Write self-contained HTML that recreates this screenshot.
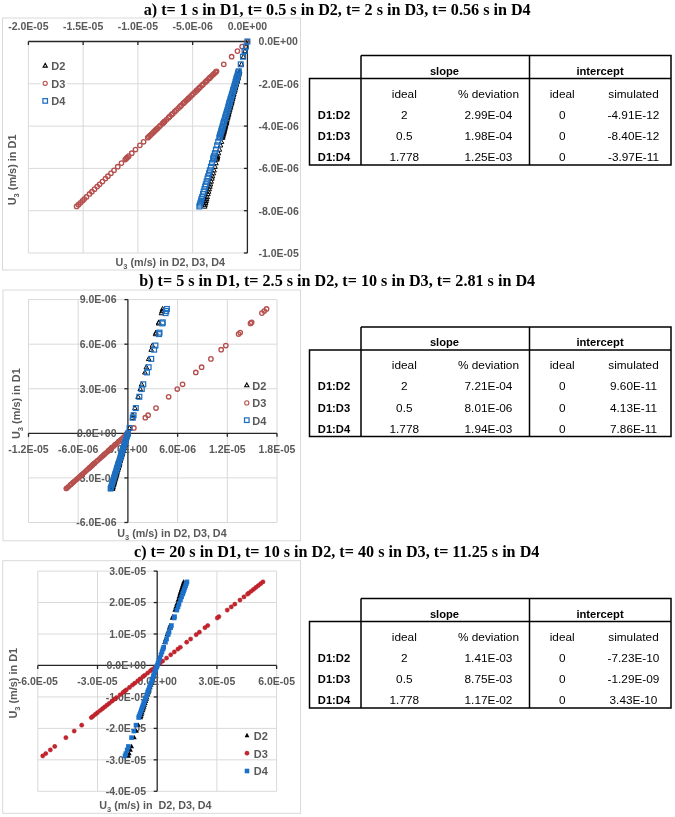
<!DOCTYPE html>
<html><head><meta charset="utf-8"><style>
html,body{margin:0;padding:0;background:#fff;}
svg{display:block;will-change:transform}
.ti{font-family:"Liberation Serif", serif;font-weight:bold;font-size:16.15px;fill:#000}
.tl{font-family:"Liberation Sans", sans-serif;font-size:10.5px;fill:#595959;font-weight:bold}
.lg{font-family:"Liberation Sans", sans-serif;font-size:11px;fill:#595959;font-weight:bold}
.at{font-family:"Liberation Sans", sans-serif;font-size:10.75px;fill:#595959;font-weight:bold}
.tb{font-family:"Liberation Sans", sans-serif;font-size:11.2px;fill:#000;font-weight:bold}
.tr{font-family:"Liberation Sans", sans-serif;font-size:11.8px;fill:#000}
</style></head>
<body><svg width="675" height="817" viewBox="0 0 675 817">
<text x="337.2" y="14.5" text-anchor="middle" class="ti">a) t= 1 s in D1, t= 0.5 s in D2, t= 2 s in D3, t= 0.56 s in D4</text>
<rect x="2.5" y="18" width="298" height="252" fill="#fff" stroke="#d9d9d9" stroke-width="1"/>
<line x1="28.40" y1="41.5" x2="28.40" y2="253" stroke="#d9d9d9" stroke-width="1"/>
<line x1="83.15" y1="41.5" x2="83.15" y2="253" stroke="#d9d9d9" stroke-width="1"/>
<line x1="137.90" y1="41.5" x2="137.90" y2="253" stroke="#d9d9d9" stroke-width="1"/>
<line x1="192.65" y1="41.5" x2="192.65" y2="253" stroke="#d9d9d9" stroke-width="1"/>
<line x1="28.4" y1="253.00" x2="247.4" y2="253.00" stroke="#d9d9d9" stroke-width="1"/>
<line x1="28.4" y1="210.70" x2="247.4" y2="210.70" stroke="#d9d9d9" stroke-width="1"/>
<line x1="28.4" y1="168.40" x2="247.4" y2="168.40" stroke="#d9d9d9" stroke-width="1"/>
<line x1="28.4" y1="126.10" x2="247.4" y2="126.10" stroke="#d9d9d9" stroke-width="1"/>
<line x1="28.4" y1="83.80" x2="247.4" y2="83.80" stroke="#d9d9d9" stroke-width="1"/>
<rect x="40.5" y="57" width="26" height="52" fill="#fff"/>
<polygon points="45.20,63.31 47.32,67.12 43.08,67.12" fill="none" stroke="#000" stroke-width="1.05"/>
<text x="51.2" y="70.00" class="lg">D2</text>
<circle cx="45.20" cy="83.30" r="2.09" fill="none" stroke="#b5504e" stroke-width="1.1"/>
<text x="51.2" y="87.70" class="lg">D3</text>
<rect x="42.92" y="98.62" width="4.56" height="4.56" fill="none" stroke="#1f6fc0" stroke-width="1.25"/>
<text x="51.2" y="105.30" class="lg">D4</text>
<line x1="28.4" y1="41.50" x2="247.4" y2="41.50" stroke="#262626" stroke-width="1.3"/>
<line x1="247.40" y1="41.5" x2="247.40" y2="253" stroke="#262626" stroke-width="1.3"/>
<line x1="28.40" y1="41.50" x2="28.40" y2="45.00" stroke="#262626" stroke-width="1.3"/>
<line x1="83.15" y1="41.50" x2="83.15" y2="45.00" stroke="#262626" stroke-width="1.3"/>
<line x1="137.90" y1="41.50" x2="137.90" y2="45.00" stroke="#262626" stroke-width="1.3"/>
<line x1="192.65" y1="41.50" x2="192.65" y2="45.00" stroke="#262626" stroke-width="1.3"/>
<line x1="247.40" y1="41.50" x2="247.40" y2="45.00" stroke="#262626" stroke-width="1.3"/>
<line x1="247.40" y1="253.00" x2="243.90" y2="253.00" stroke="#262626" stroke-width="1.3"/>
<line x1="247.40" y1="210.70" x2="243.90" y2="210.70" stroke="#262626" stroke-width="1.3"/>
<line x1="247.40" y1="168.40" x2="243.90" y2="168.40" stroke="#262626" stroke-width="1.3"/>
<line x1="247.40" y1="126.10" x2="243.90" y2="126.10" stroke="#262626" stroke-width="1.3"/>
<line x1="247.40" y1="83.80" x2="243.90" y2="83.80" stroke="#262626" stroke-width="1.3"/>
<line x1="247.40" y1="41.50" x2="243.90" y2="41.50" stroke="#262626" stroke-width="1.3"/>
<text x="28.40" y="29.8" text-anchor="middle" class="tl">-2.0E-05</text>
<text x="83.15" y="29.8" text-anchor="middle" class="tl">-1.5E-05</text>
<text x="137.90" y="29.8" text-anchor="middle" class="tl">-1.0E-05</text>
<text x="192.65" y="29.8" text-anchor="middle" class="tl">-5.0E-06</text>
<text x="247.40" y="29.8" text-anchor="middle" class="tl">0.0E+00</text>
<text x="258.5" y="256.80" text-anchor="start" class="tl">-1.0E-05</text>
<text x="258.5" y="214.50" text-anchor="start" class="tl">-8.0E-06</text>
<text x="258.5" y="172.20" text-anchor="start" class="tl">-6.0E-06</text>
<text x="258.5" y="129.90" text-anchor="start" class="tl">-4.0E-06</text>
<text x="258.5" y="87.60" text-anchor="start" class="tl">-2.0E-06</text>
<text x="258.5" y="45.30" text-anchor="start" class="tl">0.0E+00</text>
<polygon points="247.40,39.02 249.70,43.16 245.10,43.16" fill="none" stroke="#000" stroke-width="1.0"/>
<polygon points="246.09,44.09 248.39,48.23 243.79,48.23" fill="none" stroke="#000" stroke-width="1.0"/>
<polygon points="244.91,48.64 247.21,52.78 242.61,52.78" fill="none" stroke="#000" stroke-width="1.0"/>
<polygon points="243.46,54.24 245.76,58.38 241.16,58.38" fill="none" stroke="#000" stroke-width="1.0"/>
<polygon points="241.49,61.86 243.79,66.00 239.19,66.00" fill="none" stroke="#000" stroke-width="1.0"/>
<polygon points="239.68,68.84 241.98,72.98 237.38,72.98" fill="none" stroke="#000" stroke-width="1.0"/>
<polygon points="239.46,69.71 241.76,73.85 237.16,73.85" fill="none" stroke="#000" stroke-width="1.0"/>
<polygon points="239.11,71.04 241.41,75.18 236.81,75.18" fill="none" stroke="#000" stroke-width="1.0"/>
<polygon points="238.83,72.11 241.13,76.25 236.53,76.25" fill="none" stroke="#000" stroke-width="1.0"/>
<polygon points="238.46,73.54 240.76,77.68 236.16,77.68" fill="none" stroke="#000" stroke-width="1.0"/>
<polygon points="238.08,75.00 240.38,79.14 235.78,79.14" fill="none" stroke="#000" stroke-width="1.0"/>
<polygon points="237.93,75.61 240.23,79.75 235.63,79.75" fill="none" stroke="#000" stroke-width="1.0"/>
<polygon points="237.79,76.14 240.09,80.28 235.49,80.28" fill="none" stroke="#000" stroke-width="1.0"/>
<polygon points="237.33,77.92 239.63,82.06 235.03,82.06" fill="none" stroke="#000" stroke-width="1.0"/>
<polygon points="237.10,78.82 239.40,82.96 234.80,82.96" fill="none" stroke="#000" stroke-width="1.0"/>
<polygon points="236.87,79.69 239.17,83.83 234.57,83.83" fill="none" stroke="#000" stroke-width="1.0"/>
<polygon points="236.35,81.71 238.65,85.85 234.05,85.85" fill="none" stroke="#000" stroke-width="1.0"/>
<polygon points="236.03,82.93 238.33,87.07 233.73,87.07" fill="none" stroke="#000" stroke-width="1.0"/>
<polygon points="235.57,84.72 237.87,88.86 233.27,88.86" fill="none" stroke="#000" stroke-width="1.0"/>
<polygon points="235.25,85.95 237.55,90.09 232.95,90.09" fill="none" stroke="#000" stroke-width="1.0"/>
<polygon points="234.87,87.43 237.17,91.57 232.57,91.57" fill="none" stroke="#000" stroke-width="1.0"/>
<polygon points="234.68,88.17 236.98,92.31 232.38,92.31" fill="none" stroke="#000" stroke-width="1.0"/>
<polygon points="234.29,89.64 236.59,93.78 231.99,93.78" fill="none" stroke="#000" stroke-width="1.0"/>
<polygon points="233.82,91.47 236.12,95.61 231.52,95.61" fill="none" stroke="#000" stroke-width="1.0"/>
<polygon points="233.48,92.78 235.78,96.92 231.18,96.92" fill="none" stroke="#000" stroke-width="1.0"/>
<polygon points="233.06,94.41 235.36,98.55 230.76,98.55" fill="none" stroke="#000" stroke-width="1.0"/>
<polygon points="232.66,95.94 234.96,100.08 230.36,100.08" fill="none" stroke="#000" stroke-width="1.0"/>
<polygon points="232.51,96.55 234.81,100.69 230.21,100.69" fill="none" stroke="#000" stroke-width="1.0"/>
<polygon points="232.08,98.21 234.38,102.35 229.78,102.35" fill="none" stroke="#000" stroke-width="1.0"/>
<polygon points="231.71,99.62 234.01,103.76 229.41,103.76" fill="none" stroke="#000" stroke-width="1.0"/>
<polygon points="231.46,100.58 233.76,104.72 229.16,104.72" fill="none" stroke="#000" stroke-width="1.0"/>
<polygon points="231.32,101.14 233.62,105.28 229.02,105.28" fill="none" stroke="#000" stroke-width="1.0"/>
<polygon points="230.85,102.96 233.15,107.10 228.55,107.10" fill="none" stroke="#000" stroke-width="1.0"/>
<polygon points="230.53,104.19 232.83,108.33 228.23,108.33" fill="none" stroke="#000" stroke-width="1.0"/>
<polygon points="230.11,105.79 232.41,109.93 227.81,109.93" fill="none" stroke="#000" stroke-width="1.0"/>
<polygon points="229.64,107.64 231.94,111.78 227.34,111.78" fill="none" stroke="#000" stroke-width="1.0"/>
<polygon points="229.22,109.23 231.52,113.37 226.92,113.37" fill="none" stroke="#000" stroke-width="1.0"/>
<polygon points="228.73,111.14 231.03,115.28 226.43,115.28" fill="none" stroke="#000" stroke-width="1.0"/>
<polygon points="228.44,112.25 230.74,116.39 226.14,116.39" fill="none" stroke="#000" stroke-width="1.0"/>
<polygon points="227.99,113.98 230.29,118.12 225.69,118.12" fill="none" stroke="#000" stroke-width="1.0"/>
<polygon points="227.69,115.17 229.99,119.31 225.39,119.31" fill="none" stroke="#000" stroke-width="1.0"/>
<polygon points="227.19,117.10 229.49,121.24 224.89,121.24" fill="none" stroke="#000" stroke-width="1.0"/>
<polygon points="226.71,118.94 229.01,123.08 224.41,123.08" fill="none" stroke="#000" stroke-width="1.0"/>
<polygon points="226.54,119.60 228.84,123.74 224.24,123.74" fill="none" stroke="#000" stroke-width="1.0"/>
<polygon points="226.35,120.31 228.65,124.45 224.05,124.45" fill="none" stroke="#000" stroke-width="1.0"/>
<polygon points="226.14,121.15 228.44,125.29 223.84,125.29" fill="none" stroke="#000" stroke-width="1.0"/>
<polygon points="225.63,123.13 227.93,127.27 223.33,127.27" fill="none" stroke="#000" stroke-width="1.0"/>
<polygon points="225.32,124.30 227.62,128.44 223.02,128.44" fill="none" stroke="#000" stroke-width="1.0"/>
<polygon points="224.94,125.76 227.24,129.90 222.64,129.90" fill="none" stroke="#000" stroke-width="1.0"/>
<polygon points="224.69,126.73 226.99,130.87 222.39,130.87" fill="none" stroke="#000" stroke-width="1.0"/>
<polygon points="224.36,128.01 226.66,132.15 222.06,132.15" fill="none" stroke="#000" stroke-width="1.0"/>
<polygon points="224.08,129.10 226.38,133.24 221.78,133.24" fill="none" stroke="#000" stroke-width="1.0"/>
<polygon points="223.81,130.15 226.11,134.29 221.51,134.29" fill="none" stroke="#000" stroke-width="1.0"/>
<polygon points="223.45,131.55 225.75,135.69 221.15,135.69" fill="none" stroke="#000" stroke-width="1.0"/>
<polygon points="223.09,132.94 225.39,137.08 220.79,137.08" fill="none" stroke="#000" stroke-width="1.0"/>
<polygon points="222.76,134.19 225.06,138.33 220.46,138.33" fill="none" stroke="#000" stroke-width="1.0"/>
<polygon points="222.49,135.25 224.79,139.39 220.19,139.39" fill="none" stroke="#000" stroke-width="1.0"/>
<polygon points="221.45,139.27 223.75,143.41 219.15,143.41" fill="none" stroke="#000" stroke-width="1.0"/>
<polygon points="220.52,142.86 222.82,147.00 218.22,147.00" fill="none" stroke="#000" stroke-width="1.0"/>
<polygon points="219.42,147.09 221.72,151.23 217.12,151.23" fill="none" stroke="#000" stroke-width="1.0"/>
<polygon points="218.49,150.69 220.79,154.83 216.19,154.83" fill="none" stroke="#000" stroke-width="1.0"/>
<polygon points="217.73,153.65 220.03,157.79 215.43,157.79" fill="none" stroke="#000" stroke-width="1.0"/>
<polygon points="217.40,154.92 219.70,159.06 215.10,159.06" fill="none" stroke="#000" stroke-width="1.0"/>
<polygon points="217.12,155.98 219.42,160.12 214.82,160.12" fill="none" stroke="#000" stroke-width="1.0"/>
<polygon points="216.85,157.03 219.15,161.17 214.55,161.17" fill="none" stroke="#000" stroke-width="1.0"/>
<polygon points="215.92,160.63 218.22,164.77 213.62,164.77" fill="none" stroke="#000" stroke-width="1.0"/>
<polygon points="214.99,164.22 217.29,168.36 212.69,168.36" fill="none" stroke="#000" stroke-width="1.0"/>
<polygon points="214.06,167.82 216.36,171.96 211.76,171.96" fill="none" stroke="#000" stroke-width="1.0"/>
<polygon points="213.29,170.78 215.59,174.92 210.99,174.92" fill="none" stroke="#000" stroke-width="1.0"/>
<polygon points="212.52,173.74 214.82,177.88 210.22,177.88" fill="none" stroke="#000" stroke-width="1.0"/>
<polygon points="211.92,176.07 214.22,180.21 209.62,180.21" fill="none" stroke="#000" stroke-width="1.0"/>
<polygon points="211.16,179.03 213.46,183.17 208.86,183.17" fill="none" stroke="#000" stroke-width="1.0"/>
<polygon points="210.44,181.78 212.74,185.92 208.14,185.92" fill="none" stroke="#000" stroke-width="1.0"/>
<polygon points="209.84,184.10 212.14,188.25 207.54,188.25" fill="none" stroke="#000" stroke-width="1.0"/>
<polygon points="209.18,186.64 211.48,190.78 206.88,190.78" fill="none" stroke="#000" stroke-width="1.0"/>
<polygon points="208.53,189.18 210.83,193.32 206.23,193.32" fill="none" stroke="#000" stroke-width="1.0"/>
<polygon points="207.93,191.51 210.23,195.65 205.63,195.65" fill="none" stroke="#000" stroke-width="1.0"/>
<polygon points="207.16,194.47 209.46,198.61 204.86,198.61" fill="none" stroke="#000" stroke-width="1.0"/>
<polygon points="206.61,196.58 208.91,200.72 204.31,200.72" fill="none" stroke="#000" stroke-width="1.0"/>
<polygon points="206.17,198.28 208.47,202.42 203.87,202.42" fill="none" stroke="#000" stroke-width="1.0"/>
<polygon points="205.66,200.27 207.96,204.41 203.36,204.41" fill="none" stroke="#000" stroke-width="1.0"/>
<polygon points="205.16,202.17 207.46,206.31 202.86,206.31" fill="none" stroke="#000" stroke-width="1.0"/>
<polygon points="204.70,203.99 207.00,208.13 202.40,208.13" fill="none" stroke="#000" stroke-width="1.0"/>
<circle cx="247.40" cy="41.50" r="2.2" fill="none" stroke="#b5504e" stroke-width="1.35"/>
<circle cx="242.14" cy="46.58" r="2.2" fill="none" stroke="#b5504e" stroke-width="1.35"/>
<circle cx="237.44" cy="51.12" r="2.2" fill="none" stroke="#b5504e" stroke-width="1.35"/>
<circle cx="231.63" cy="56.73" r="2.2" fill="none" stroke="#b5504e" stroke-width="1.35"/>
<circle cx="223.75" cy="64.34" r="2.2" fill="none" stroke="#b5504e" stroke-width="1.35"/>
<circle cx="216.52" cy="71.32" r="2.2" fill="none" stroke="#b5504e" stroke-width="1.35"/>
<circle cx="215.62" cy="72.19" r="2.2" fill="none" stroke="#b5504e" stroke-width="1.35"/>
<circle cx="214.24" cy="73.53" r="2.2" fill="none" stroke="#b5504e" stroke-width="1.35"/>
<circle cx="213.13" cy="74.60" r="2.2" fill="none" stroke="#b5504e" stroke-width="1.35"/>
<circle cx="211.65" cy="76.03" r="2.2" fill="none" stroke="#b5504e" stroke-width="1.35"/>
<circle cx="210.14" cy="77.49" r="2.2" fill="none" stroke="#b5504e" stroke-width="1.35"/>
<circle cx="209.51" cy="78.09" r="2.2" fill="none" stroke="#b5504e" stroke-width="1.35"/>
<circle cx="208.96" cy="78.62" r="2.2" fill="none" stroke="#b5504e" stroke-width="1.35"/>
<circle cx="207.12" cy="80.40" r="2.2" fill="none" stroke="#b5504e" stroke-width="1.35"/>
<circle cx="206.18" cy="81.31" r="2.2" fill="none" stroke="#b5504e" stroke-width="1.35"/>
<circle cx="205.29" cy="82.17" r="2.2" fill="none" stroke="#b5504e" stroke-width="1.35"/>
<circle cx="203.19" cy="84.20" r="2.2" fill="none" stroke="#b5504e" stroke-width="1.35"/>
<circle cx="201.92" cy="85.42" r="2.2" fill="none" stroke="#b5504e" stroke-width="1.35"/>
<circle cx="200.08" cy="87.20" r="2.2" fill="none" stroke="#b5504e" stroke-width="1.35"/>
<circle cx="198.80" cy="88.43" r="2.2" fill="none" stroke="#b5504e" stroke-width="1.35"/>
<circle cx="197.27" cy="89.91" r="2.2" fill="none" stroke="#b5504e" stroke-width="1.35"/>
<circle cx="196.51" cy="90.65" r="2.2" fill="none" stroke="#b5504e" stroke-width="1.35"/>
<circle cx="194.98" cy="92.13" r="2.2" fill="none" stroke="#b5504e" stroke-width="1.35"/>
<circle cx="193.09" cy="93.95" r="2.2" fill="none" stroke="#b5504e" stroke-width="1.35"/>
<circle cx="191.73" cy="95.26" r="2.2" fill="none" stroke="#b5504e" stroke-width="1.35"/>
<circle cx="190.04" cy="96.90" r="2.2" fill="none" stroke="#b5504e" stroke-width="1.35"/>
<circle cx="188.46" cy="98.43" r="2.2" fill="none" stroke="#b5504e" stroke-width="1.35"/>
<circle cx="187.83" cy="99.03" r="2.2" fill="none" stroke="#b5504e" stroke-width="1.35"/>
<circle cx="186.11" cy="100.69" r="2.2" fill="none" stroke="#b5504e" stroke-width="1.35"/>
<circle cx="184.65" cy="102.10" r="2.2" fill="none" stroke="#b5504e" stroke-width="1.35"/>
<circle cx="183.65" cy="103.07" r="2.2" fill="none" stroke="#b5504e" stroke-width="1.35"/>
<circle cx="183.08" cy="103.62" r="2.2" fill="none" stroke="#b5504e" stroke-width="1.35"/>
<circle cx="181.18" cy="105.45" r="2.2" fill="none" stroke="#b5504e" stroke-width="1.35"/>
<circle cx="179.91" cy="106.67" r="2.2" fill="none" stroke="#b5504e" stroke-width="1.35"/>
<circle cx="178.25" cy="108.28" r="2.2" fill="none" stroke="#b5504e" stroke-width="1.35"/>
<circle cx="176.34" cy="110.12" r="2.2" fill="none" stroke="#b5504e" stroke-width="1.35"/>
<circle cx="174.69" cy="111.72" r="2.2" fill="none" stroke="#b5504e" stroke-width="1.35"/>
<circle cx="172.71" cy="113.63" r="2.2" fill="none" stroke="#b5504e" stroke-width="1.35"/>
<circle cx="171.57" cy="114.74" r="2.2" fill="none" stroke="#b5504e" stroke-width="1.35"/>
<circle cx="169.78" cy="116.46" r="2.2" fill="none" stroke="#b5504e" stroke-width="1.35"/>
<circle cx="168.55" cy="117.65" r="2.2" fill="none" stroke="#b5504e" stroke-width="1.35"/>
<circle cx="166.55" cy="119.58" r="2.2" fill="none" stroke="#b5504e" stroke-width="1.35"/>
<circle cx="164.64" cy="121.43" r="2.2" fill="none" stroke="#b5504e" stroke-width="1.35"/>
<circle cx="163.96" cy="122.08" r="2.2" fill="none" stroke="#b5504e" stroke-width="1.35"/>
<circle cx="163.22" cy="122.80" r="2.2" fill="none" stroke="#b5504e" stroke-width="1.35"/>
<circle cx="162.35" cy="123.64" r="2.2" fill="none" stroke="#b5504e" stroke-width="1.35"/>
<circle cx="160.30" cy="125.61" r="2.2" fill="none" stroke="#b5504e" stroke-width="1.35"/>
<circle cx="159.09" cy="126.79" r="2.2" fill="none" stroke="#b5504e" stroke-width="1.35"/>
<circle cx="157.58" cy="128.25" r="2.2" fill="none" stroke="#b5504e" stroke-width="1.35"/>
<circle cx="156.58" cy="129.21" r="2.2" fill="none" stroke="#b5504e" stroke-width="1.35"/>
<circle cx="155.25" cy="130.49" r="2.2" fill="none" stroke="#b5504e" stroke-width="1.35"/>
<circle cx="154.12" cy="131.59" r="2.2" fill="none" stroke="#b5504e" stroke-width="1.35"/>
<circle cx="153.04" cy="132.63" r="2.2" fill="none" stroke="#b5504e" stroke-width="1.35"/>
<circle cx="151.59" cy="134.03" r="2.2" fill="none" stroke="#b5504e" stroke-width="1.35"/>
<circle cx="150.14" cy="135.43" r="2.2" fill="none" stroke="#b5504e" stroke-width="1.35"/>
<circle cx="148.85" cy="136.68" r="2.2" fill="none" stroke="#b5504e" stroke-width="1.35"/>
<circle cx="147.75" cy="137.73" r="2.2" fill="none" stroke="#b5504e" stroke-width="1.35"/>
<circle cx="143.59" cy="141.75" r="2.2" fill="none" stroke="#b5504e" stroke-width="1.35"/>
<circle cx="139.87" cy="145.35" r="2.2" fill="none" stroke="#b5504e" stroke-width="1.35"/>
<circle cx="135.49" cy="149.58" r="2.2" fill="none" stroke="#b5504e" stroke-width="1.35"/>
<circle cx="131.77" cy="153.17" r="2.2" fill="none" stroke="#b5504e" stroke-width="1.35"/>
<circle cx="128.70" cy="156.13" r="2.2" fill="none" stroke="#b5504e" stroke-width="1.35"/>
<circle cx="127.39" cy="157.40" r="2.2" fill="none" stroke="#b5504e" stroke-width="1.35"/>
<circle cx="126.29" cy="158.46" r="2.2" fill="none" stroke="#b5504e" stroke-width="1.35"/>
<circle cx="125.20" cy="159.52" r="2.2" fill="none" stroke="#b5504e" stroke-width="1.35"/>
<circle cx="121.47" cy="163.11" r="2.2" fill="none" stroke="#b5504e" stroke-width="1.35"/>
<circle cx="117.75" cy="166.71" r="2.2" fill="none" stroke="#b5504e" stroke-width="1.35"/>
<circle cx="114.03" cy="170.30" r="2.2" fill="none" stroke="#b5504e" stroke-width="1.35"/>
<circle cx="110.96" cy="173.26" r="2.2" fill="none" stroke="#b5504e" stroke-width="1.35"/>
<circle cx="107.90" cy="176.23" r="2.2" fill="none" stroke="#b5504e" stroke-width="1.35"/>
<circle cx="105.49" cy="178.55" r="2.2" fill="none" stroke="#b5504e" stroke-width="1.35"/>
<circle cx="102.42" cy="181.51" r="2.2" fill="none" stroke="#b5504e" stroke-width="1.35"/>
<circle cx="99.58" cy="184.26" r="2.2" fill="none" stroke="#b5504e" stroke-width="1.35"/>
<circle cx="97.17" cy="186.59" r="2.2" fill="none" stroke="#b5504e" stroke-width="1.35"/>
<circle cx="94.54" cy="189.13" r="2.2" fill="none" stroke="#b5504e" stroke-width="1.35"/>
<circle cx="91.91" cy="191.66" r="2.2" fill="none" stroke="#b5504e" stroke-width="1.35"/>
<circle cx="89.50" cy="193.99" r="2.2" fill="none" stroke="#b5504e" stroke-width="1.35"/>
<circle cx="86.44" cy="196.95" r="2.2" fill="none" stroke="#b5504e" stroke-width="1.35"/>
<circle cx="84.25" cy="199.07" r="2.2" fill="none" stroke="#b5504e" stroke-width="1.35"/>
<circle cx="82.49" cy="200.76" r="2.2" fill="none" stroke="#b5504e" stroke-width="1.35"/>
<circle cx="80.43" cy="202.75" r="2.2" fill="none" stroke="#b5504e" stroke-width="1.35"/>
<circle cx="78.46" cy="204.65" r="2.2" fill="none" stroke="#b5504e" stroke-width="1.35"/>
<circle cx="76.58" cy="206.47" r="2.2" fill="none" stroke="#b5504e" stroke-width="1.35"/>
<rect x="245.00" y="39.10" width="4.8" height="4.8" fill="none" stroke="#1f6fc0" stroke-width="1.25"/>
<rect x="243.52" y="44.18" width="4.8" height="4.8" fill="none" stroke="#1f6fc0" stroke-width="1.25"/>
<rect x="242.20" y="48.72" width="4.8" height="4.8" fill="none" stroke="#1f6fc0" stroke-width="1.25"/>
<rect x="240.57" y="54.33" width="4.8" height="4.8" fill="none" stroke="#1f6fc0" stroke-width="1.25"/>
<rect x="238.35" y="61.94" width="4.8" height="4.8" fill="none" stroke="#1f6fc0" stroke-width="1.25"/>
<rect x="236.32" y="68.92" width="4.8" height="4.8" fill="none" stroke="#1f6fc0" stroke-width="1.25"/>
<rect x="236.06" y="69.79" width="4.8" height="4.8" fill="none" stroke="#1f6fc0" stroke-width="1.25"/>
<rect x="235.67" y="71.13" width="4.8" height="4.8" fill="none" stroke="#1f6fc0" stroke-width="1.25"/>
<rect x="235.36" y="72.20" width="4.8" height="4.8" fill="none" stroke="#1f6fc0" stroke-width="1.25"/>
<rect x="234.95" y="73.63" width="4.8" height="4.8" fill="none" stroke="#1f6fc0" stroke-width="1.25"/>
<rect x="234.52" y="75.09" width="4.8" height="4.8" fill="none" stroke="#1f6fc0" stroke-width="1.25"/>
<rect x="234.34" y="75.69" width="4.8" height="4.8" fill="none" stroke="#1f6fc0" stroke-width="1.25"/>
<rect x="234.19" y="76.22" width="4.8" height="4.8" fill="none" stroke="#1f6fc0" stroke-width="1.25"/>
<rect x="233.67" y="78.00" width="4.8" height="4.8" fill="none" stroke="#1f6fc0" stroke-width="1.25"/>
<rect x="233.41" y="78.91" width="4.8" height="4.8" fill="none" stroke="#1f6fc0" stroke-width="1.25"/>
<rect x="233.16" y="79.77" width="4.8" height="4.8" fill="none" stroke="#1f6fc0" stroke-width="1.25"/>
<rect x="232.57" y="81.80" width="4.8" height="4.8" fill="none" stroke="#1f6fc0" stroke-width="1.25"/>
<rect x="232.21" y="83.02" width="4.8" height="4.8" fill="none" stroke="#1f6fc0" stroke-width="1.25"/>
<rect x="231.69" y="84.80" width="4.8" height="4.8" fill="none" stroke="#1f6fc0" stroke-width="1.25"/>
<rect x="231.33" y="86.03" width="4.8" height="4.8" fill="none" stroke="#1f6fc0" stroke-width="1.25"/>
<rect x="230.90" y="87.51" width="4.8" height="4.8" fill="none" stroke="#1f6fc0" stroke-width="1.25"/>
<rect x="230.69" y="88.25" width="4.8" height="4.8" fill="none" stroke="#1f6fc0" stroke-width="1.25"/>
<rect x="230.26" y="89.73" width="4.8" height="4.8" fill="none" stroke="#1f6fc0" stroke-width="1.25"/>
<rect x="229.73" y="91.55" width="4.8" height="4.8" fill="none" stroke="#1f6fc0" stroke-width="1.25"/>
<rect x="229.35" y="92.86" width="4.8" height="4.8" fill="none" stroke="#1f6fc0" stroke-width="1.25"/>
<rect x="228.87" y="94.50" width="4.8" height="4.8" fill="none" stroke="#1f6fc0" stroke-width="1.25"/>
<rect x="228.42" y="96.03" width="4.8" height="4.8" fill="none" stroke="#1f6fc0" stroke-width="1.25"/>
<rect x="228.25" y="96.63" width="4.8" height="4.8" fill="none" stroke="#1f6fc0" stroke-width="1.25"/>
<rect x="227.76" y="98.29" width="4.8" height="4.8" fill="none" stroke="#1f6fc0" stroke-width="1.25"/>
<rect x="227.35" y="99.70" width="4.8" height="4.8" fill="none" stroke="#1f6fc0" stroke-width="1.25"/>
<rect x="227.07" y="100.67" width="4.8" height="4.8" fill="none" stroke="#1f6fc0" stroke-width="1.25"/>
<rect x="226.91" y="101.22" width="4.8" height="4.8" fill="none" stroke="#1f6fc0" stroke-width="1.25"/>
<rect x="226.38" y="103.05" width="4.8" height="4.8" fill="none" stroke="#1f6fc0" stroke-width="1.25"/>
<rect x="226.02" y="104.27" width="4.8" height="4.8" fill="none" stroke="#1f6fc0" stroke-width="1.25"/>
<rect x="225.56" y="105.88" width="4.8" height="4.8" fill="none" stroke="#1f6fc0" stroke-width="1.25"/>
<rect x="225.02" y="107.72" width="4.8" height="4.8" fill="none" stroke="#1f6fc0" stroke-width="1.25"/>
<rect x="224.55" y="109.32" width="4.8" height="4.8" fill="none" stroke="#1f6fc0" stroke-width="1.25"/>
<rect x="224.00" y="111.23" width="4.8" height="4.8" fill="none" stroke="#1f6fc0" stroke-width="1.25"/>
<rect x="223.67" y="112.34" width="4.8" height="4.8" fill="none" stroke="#1f6fc0" stroke-width="1.25"/>
<rect x="223.17" y="114.06" width="4.8" height="4.8" fill="none" stroke="#1f6fc0" stroke-width="1.25"/>
<rect x="222.83" y="115.25" width="4.8" height="4.8" fill="none" stroke="#1f6fc0" stroke-width="1.25"/>
<rect x="222.26" y="117.18" width="4.8" height="4.8" fill="none" stroke="#1f6fc0" stroke-width="1.25"/>
<rect x="221.73" y="119.03" width="4.8" height="4.8" fill="none" stroke="#1f6fc0" stroke-width="1.25"/>
<rect x="221.54" y="119.68" width="4.8" height="4.8" fill="none" stroke="#1f6fc0" stroke-width="1.25"/>
<rect x="221.33" y="120.40" width="4.8" height="4.8" fill="none" stroke="#1f6fc0" stroke-width="1.25"/>
<rect x="221.08" y="121.24" width="4.8" height="4.8" fill="none" stroke="#1f6fc0" stroke-width="1.25"/>
<rect x="220.51" y="123.21" width="4.8" height="4.8" fill="none" stroke="#1f6fc0" stroke-width="1.25"/>
<rect x="220.17" y="124.39" width="4.8" height="4.8" fill="none" stroke="#1f6fc0" stroke-width="1.25"/>
<rect x="219.74" y="125.85" width="4.8" height="4.8" fill="none" stroke="#1f6fc0" stroke-width="1.25"/>
<rect x="219.46" y="126.81" width="4.8" height="4.8" fill="none" stroke="#1f6fc0" stroke-width="1.25"/>
<rect x="219.09" y="128.09" width="4.8" height="4.8" fill="none" stroke="#1f6fc0" stroke-width="1.25"/>
<rect x="218.77" y="129.19" width="4.8" height="4.8" fill="none" stroke="#1f6fc0" stroke-width="1.25"/>
<rect x="218.46" y="130.23" width="4.8" height="4.8" fill="none" stroke="#1f6fc0" stroke-width="1.25"/>
<rect x="218.06" y="131.63" width="4.8" height="4.8" fill="none" stroke="#1f6fc0" stroke-width="1.25"/>
<rect x="217.65" y="133.03" width="4.8" height="4.8" fill="none" stroke="#1f6fc0" stroke-width="1.25"/>
<rect x="217.29" y="134.28" width="4.8" height="4.8" fill="none" stroke="#1f6fc0" stroke-width="1.25"/>
<rect x="216.98" y="135.33" width="4.8" height="4.8" fill="none" stroke="#1f6fc0" stroke-width="1.25"/>
<rect x="215.81" y="139.35" width="4.8" height="4.8" fill="none" stroke="#1f6fc0" stroke-width="1.25"/>
<rect x="214.76" y="142.95" width="4.8" height="4.8" fill="none" stroke="#1f6fc0" stroke-width="1.25"/>
<rect x="213.53" y="147.18" width="4.8" height="4.8" fill="none" stroke="#1f6fc0" stroke-width="1.25"/>
<rect x="212.48" y="150.77" width="4.8" height="4.8" fill="none" stroke="#1f6fc0" stroke-width="1.25"/>
<rect x="211.62" y="153.73" width="4.8" height="4.8" fill="none" stroke="#1f6fc0" stroke-width="1.25"/>
<rect x="211.25" y="155.00" width="4.8" height="4.8" fill="none" stroke="#1f6fc0" stroke-width="1.25"/>
<rect x="210.94" y="156.06" width="4.8" height="4.8" fill="none" stroke="#1f6fc0" stroke-width="1.25"/>
<rect x="210.63" y="157.12" width="4.8" height="4.8" fill="none" stroke="#1f6fc0" stroke-width="1.25"/>
<rect x="209.59" y="160.71" width="4.8" height="4.8" fill="none" stroke="#1f6fc0" stroke-width="1.25"/>
<rect x="208.54" y="164.31" width="4.8" height="4.8" fill="none" stroke="#1f6fc0" stroke-width="1.25"/>
<rect x="207.49" y="167.90" width="4.8" height="4.8" fill="none" stroke="#1f6fc0" stroke-width="1.25"/>
<rect x="206.63" y="170.86" width="4.8" height="4.8" fill="none" stroke="#1f6fc0" stroke-width="1.25"/>
<rect x="205.77" y="173.83" width="4.8" height="4.8" fill="none" stroke="#1f6fc0" stroke-width="1.25"/>
<rect x="205.09" y="176.15" width="4.8" height="4.8" fill="none" stroke="#1f6fc0" stroke-width="1.25"/>
<rect x="204.23" y="179.11" width="4.8" height="4.8" fill="none" stroke="#1f6fc0" stroke-width="1.25"/>
<rect x="203.43" y="181.86" width="4.8" height="4.8" fill="none" stroke="#1f6fc0" stroke-width="1.25"/>
<rect x="202.75" y="184.19" width="4.8" height="4.8" fill="none" stroke="#1f6fc0" stroke-width="1.25"/>
<rect x="202.01" y="186.73" width="4.8" height="4.8" fill="none" stroke="#1f6fc0" stroke-width="1.25"/>
<rect x="201.27" y="189.26" width="4.8" height="4.8" fill="none" stroke="#1f6fc0" stroke-width="1.25"/>
<rect x="200.60" y="191.59" width="4.8" height="4.8" fill="none" stroke="#1f6fc0" stroke-width="1.25"/>
<rect x="199.73" y="194.55" width="4.8" height="4.8" fill="none" stroke="#1f6fc0" stroke-width="1.25"/>
<rect x="199.12" y="196.67" width="4.8" height="4.8" fill="none" stroke="#1f6fc0" stroke-width="1.25"/>
<rect x="198.62" y="198.36" width="4.8" height="4.8" fill="none" stroke="#1f6fc0" stroke-width="1.25"/>
<rect x="198.05" y="200.35" width="4.8" height="4.8" fill="none" stroke="#1f6fc0" stroke-width="1.25"/>
<rect x="197.49" y="202.25" width="4.8" height="4.8" fill="none" stroke="#1f6fc0" stroke-width="1.25"/>
<rect x="196.96" y="204.07" width="4.8" height="4.8" fill="none" stroke="#1f6fc0" stroke-width="1.25"/>
<text x="115.6" y="266.4" class="at">U<tspan font-size="7.5" dy="2.5">3</tspan><tspan dy="-2.5"> (m/s) in D2, D3, D4</tspan></text>
<text transform="translate(16.2,205.3) rotate(-90)" class="at" style="font-size:10.9px">U<tspan font-size="7.5" dy="2.5">3</tspan><tspan dy="-2.5"> (m/s) in D1</tspan></text>
<path d="M361,55.5 H671 V165.0 H309.5 V78.5 H671 M361,55.5 V165.0 M529.5,55.5 V165.0" fill="none" stroke="#000" stroke-width="1.5"/>
<text x="444.5" y="74.5" text-anchor="middle" class="tb">slope</text>
<text x="600" y="74.5" text-anchor="middle" class="tb">intercept</text>
<text x="404.3" y="97.5" text-anchor="middle" class="tr">ideal</text>
<text x="488.5" y="97.5" text-anchor="middle" class="tr">% deviation</text>
<text x="562.2" y="97.5" text-anchor="middle" class="tr">ideal</text>
<text x="633.5" y="97.5" text-anchor="middle" class="tr">simulated</text>
<text x="317.8" y="118.8" class="tb">D1:D2</text>
<text x="404.3" y="118.8" text-anchor="middle" class="tr">2</text>
<text x="488.5" y="118.8" text-anchor="middle" class="tr">2.99E-04</text>
<text x="562.2" y="118.8" text-anchor="middle" class="tr">0</text>
<text x="633.5" y="118.8" text-anchor="middle" class="tr">-4.91E-12</text>
<text x="317.8" y="140.0" class="tb">D1:D3</text>
<text x="404.3" y="140.0" text-anchor="middle" class="tr">0.5</text>
<text x="488.5" y="140.0" text-anchor="middle" class="tr">1.98E-04</text>
<text x="562.2" y="140.0" text-anchor="middle" class="tr">0</text>
<text x="633.5" y="140.0" text-anchor="middle" class="tr">-8.40E-12</text>
<text x="317.8" y="161.2" class="tb">D1:D4</text>
<text x="404.3" y="161.2" text-anchor="middle" class="tr">1.778</text>
<text x="488.5" y="161.2" text-anchor="middle" class="tr">1.25E-03</text>
<text x="562.2" y="161.2" text-anchor="middle" class="tr">0</text>
<text x="633.5" y="161.2" text-anchor="middle" class="tr">-3.97E-11</text>
<text x="337.2" y="285.7" text-anchor="middle" class="ti">b) t= 5 s in D1, t= 2.5 s in D2, t= 10 s in D3, t= 2.81 s in D4</text>
<rect x="3" y="290" width="297.5" height="250.8" fill="#fff" stroke="#d9d9d9" stroke-width="1"/>
<line x1="28.50" y1="299.6" x2="28.50" y2="522.5" stroke="#d9d9d9" stroke-width="1"/>
<line x1="78.20" y1="299.6" x2="78.20" y2="522.5" stroke="#d9d9d9" stroke-width="1"/>
<line x1="177.60" y1="299.6" x2="177.60" y2="522.5" stroke="#d9d9d9" stroke-width="1"/>
<line x1="227.30" y1="299.6" x2="227.30" y2="522.5" stroke="#d9d9d9" stroke-width="1"/>
<line x1="277.00" y1="299.6" x2="277.00" y2="522.5" stroke="#d9d9d9" stroke-width="1"/>
<line x1="28.5" y1="522.50" x2="277" y2="522.50" stroke="#d9d9d9" stroke-width="1"/>
<line x1="28.5" y1="477.92" x2="277" y2="477.92" stroke="#d9d9d9" stroke-width="1"/>
<line x1="28.5" y1="388.76" x2="277" y2="388.76" stroke="#d9d9d9" stroke-width="1"/>
<line x1="28.5" y1="344.18" x2="277" y2="344.18" stroke="#d9d9d9" stroke-width="1"/>
<line x1="28.5" y1="299.60" x2="277" y2="299.60" stroke="#d9d9d9" stroke-width="1"/>
<polygon points="246.80,382.91 248.92,386.72 244.68,386.72" fill="none" stroke="#000" stroke-width="1.05"/>
<text x="252.2" y="389.60" class="lg">D2</text>
<circle cx="246.80" cy="402.90" r="2.09" fill="none" stroke="#b5504e" stroke-width="1.1"/>
<text x="252.2" y="407.30" class="lg">D3</text>
<rect x="244.52" y="417.92" width="4.56" height="4.56" fill="none" stroke="#1f6fc0" stroke-width="1.25"/>
<text x="252.2" y="424.60" class="lg">D4</text>
<line x1="28.5" y1="433.34" x2="277" y2="433.34" stroke="#262626" stroke-width="1.3"/>
<line x1="127.90" y1="299.6" x2="127.90" y2="522.5" stroke="#262626" stroke-width="1.3"/>
<line x1="28.50" y1="433.34" x2="28.50" y2="436.84" stroke="#262626" stroke-width="1.3"/>
<line x1="78.20" y1="433.34" x2="78.20" y2="436.84" stroke="#262626" stroke-width="1.3"/>
<line x1="127.90" y1="433.34" x2="127.90" y2="436.84" stroke="#262626" stroke-width="1.3"/>
<line x1="177.60" y1="433.34" x2="177.60" y2="436.84" stroke="#262626" stroke-width="1.3"/>
<line x1="227.30" y1="433.34" x2="227.30" y2="436.84" stroke="#262626" stroke-width="1.3"/>
<line x1="277.00" y1="433.34" x2="277.00" y2="436.84" stroke="#262626" stroke-width="1.3"/>
<line x1="127.90" y1="522.50" x2="124.40" y2="522.50" stroke="#262626" stroke-width="1.3"/>
<line x1="127.90" y1="477.92" x2="124.40" y2="477.92" stroke="#262626" stroke-width="1.3"/>
<line x1="127.90" y1="433.34" x2="124.40" y2="433.34" stroke="#262626" stroke-width="1.3"/>
<line x1="127.90" y1="388.76" x2="124.40" y2="388.76" stroke="#262626" stroke-width="1.3"/>
<line x1="127.90" y1="344.18" x2="124.40" y2="344.18" stroke="#262626" stroke-width="1.3"/>
<line x1="127.90" y1="299.60" x2="124.40" y2="299.60" stroke="#262626" stroke-width="1.3"/>
<text x="28.50" y="452.8" text-anchor="middle" class="tl">-1.2E-05</text>
<text x="78.20" y="452.8" text-anchor="middle" class="tl">-6.0E-06</text>
<text x="127.90" y="452.8" text-anchor="middle" class="tl">0.0E+00</text>
<text x="177.60" y="452.8" text-anchor="middle" class="tl">6.0E-06</text>
<text x="227.30" y="452.8" text-anchor="middle" class="tl">1.2E-05</text>
<text x="277.00" y="452.8" text-anchor="middle" class="tl">1.8E-05</text>
<text x="116.5" y="526.30" text-anchor="end" class="tl">-6.0E-06</text>
<text x="116.5" y="481.72" text-anchor="end" class="tl">-3.0E-06</text>
<text x="116.5" y="437.14" text-anchor="end" class="tl">0.0E+00</text>
<text x="116.5" y="392.56" text-anchor="end" class="tl">3.0E-06</text>
<text x="116.5" y="347.98" text-anchor="end" class="tl">6.0E-06</text>
<text x="116.5" y="303.40" text-anchor="end" class="tl">9.0E-06</text>
<polygon points="162.57,306.48 164.87,310.62 160.27,310.62" fill="none" stroke="#000" stroke-width="1.0"/>
<polygon points="161.99,308.56 164.29,312.70 159.69,312.70" fill="none" stroke="#000" stroke-width="1.0"/>
<polygon points="161.41,310.64 163.71,314.78 159.11,314.78" fill="none" stroke="#000" stroke-width="1.0"/>
<polygon points="158.84,319.85 161.14,323.99 156.54,323.99" fill="none" stroke="#000" stroke-width="1.0"/>
<polygon points="158.55,320.89 160.85,325.03 156.25,325.03" fill="none" stroke="#000" stroke-width="1.0"/>
<polygon points="155.98,330.11 158.28,334.25 153.68,334.25" fill="none" stroke="#000" stroke-width="1.0"/>
<polygon points="155.57,331.59 157.87,335.73 153.27,335.73" fill="none" stroke="#000" stroke-width="1.0"/>
<polygon points="152.38,343.03 154.68,347.17 150.08,347.17" fill="none" stroke="#000" stroke-width="1.0"/>
<polygon points="151.22,347.19 153.52,351.33 148.92,351.33" fill="none" stroke="#000" stroke-width="1.0"/>
<polygon points="148.65,356.41 150.95,360.55 146.35,360.55" fill="none" stroke="#000" stroke-width="1.0"/>
<polygon points="146.33,364.73 148.63,368.87 144.03,368.87" fill="none" stroke="#000" stroke-width="1.0"/>
<polygon points="144.88,369.93 147.18,374.07 142.58,374.07" fill="none" stroke="#000" stroke-width="1.0"/>
<polygon points="141.57,381.82 143.87,385.96 139.27,385.96" fill="none" stroke="#000" stroke-width="1.0"/>
<polygon points="140.24,386.57 142.54,390.71 137.94,390.71" fill="none" stroke="#000" stroke-width="1.0"/>
<polygon points="138.09,394.30 140.39,398.44 135.79,398.44" fill="none" stroke="#000" stroke-width="1.0"/>
<polygon points="134.94,405.59 137.24,409.73 132.64,409.73" fill="none" stroke="#000" stroke-width="1.0"/>
<polygon points="132.95,412.73 135.25,416.87 130.65,416.87" fill="none" stroke="#000" stroke-width="1.0"/>
<polygon points="132.25,415.25 134.55,419.39 129.95,419.39" fill="none" stroke="#000" stroke-width="1.0"/>
<polygon points="129.39,425.51 131.69,429.65 127.09,429.65" fill="none" stroke="#000" stroke-width="1.0"/>
<polygon points="127.90,430.86 130.20,435.00 125.60,435.00" fill="none" stroke="#000" stroke-width="1.0"/>
<polygon points="127.59,431.96 129.89,436.10 125.29,436.10" fill="none" stroke="#000" stroke-width="1.0"/>
<polygon points="127.46,432.43 129.76,436.57 125.16,436.57" fill="none" stroke="#000" stroke-width="1.0"/>
<polygon points="127.09,433.77 129.39,437.91 124.79,437.91" fill="none" stroke="#000" stroke-width="1.0"/>
<polygon points="126.68,435.25 128.98,439.39 124.38,439.39" fill="none" stroke="#000" stroke-width="1.0"/>
<polygon points="126.29,436.64 128.59,440.78 123.99,440.78" fill="none" stroke="#000" stroke-width="1.0"/>
<polygon points="126.01,437.62 128.31,441.76 123.71,441.76" fill="none" stroke="#000" stroke-width="1.0"/>
<polygon points="125.69,438.78 127.99,442.92 123.39,442.92" fill="none" stroke="#000" stroke-width="1.0"/>
<polygon points="125.54,439.31 127.84,443.45 123.24,443.45" fill="none" stroke="#000" stroke-width="1.0"/>
<polygon points="125.18,440.62 127.48,444.76 122.88,444.76" fill="none" stroke="#000" stroke-width="1.0"/>
<polygon points="124.91,441.60 127.21,445.74 122.61,445.74" fill="none" stroke="#000" stroke-width="1.0"/>
<polygon points="124.73,442.22 127.03,446.36 122.43,446.36" fill="none" stroke="#000" stroke-width="1.0"/>
<polygon points="124.64,442.57 126.94,446.71 122.34,446.71" fill="none" stroke="#000" stroke-width="1.0"/>
<polygon points="124.26,443.90 126.56,448.04 121.96,448.04" fill="none" stroke="#000" stroke-width="1.0"/>
<polygon points="123.84,445.41 126.14,449.55 121.54,449.55" fill="none" stroke="#000" stroke-width="1.0"/>
<polygon points="123.74,445.78 126.04,449.92 121.44,449.92" fill="none" stroke="#000" stroke-width="1.0"/>
<polygon points="123.39,447.05 125.69,451.19 121.09,451.19" fill="none" stroke="#000" stroke-width="1.0"/>
<polygon points="123.17,447.83 125.47,451.97 120.87,451.97" fill="none" stroke="#000" stroke-width="1.0"/>
<polygon points="123.04,448.29 125.34,452.43 120.74,452.43" fill="none" stroke="#000" stroke-width="1.0"/>
<polygon points="122.87,448.92 125.17,453.06 120.57,453.06" fill="none" stroke="#000" stroke-width="1.0"/>
<polygon points="122.52,450.15 124.82,454.29 120.22,454.29" fill="none" stroke="#000" stroke-width="1.0"/>
<polygon points="122.15,451.50 124.45,455.64 119.85,455.64" fill="none" stroke="#000" stroke-width="1.0"/>
<polygon points="122.06,451.83 124.36,455.97 119.76,455.97" fill="none" stroke="#000" stroke-width="1.0"/>
<polygon points="121.77,452.86 124.07,457.00 119.47,457.00" fill="none" stroke="#000" stroke-width="1.0"/>
<polygon points="121.68,453.18 123.98,457.32 119.38,457.32" fill="none" stroke="#000" stroke-width="1.0"/>
<polygon points="121.35,454.35 123.65,458.49 119.05,458.49" fill="none" stroke="#000" stroke-width="1.0"/>
<polygon points="121.16,455.03 123.46,459.17 118.86,459.17" fill="none" stroke="#000" stroke-width="1.0"/>
<polygon points="120.78,456.40 123.08,460.54 118.48,460.54" fill="none" stroke="#000" stroke-width="1.0"/>
<polygon points="120.37,457.89 122.67,462.03 118.07,462.03" fill="none" stroke="#000" stroke-width="1.0"/>
<polygon points="120.12,458.79 122.42,462.93 117.82,462.93" fill="none" stroke="#000" stroke-width="1.0"/>
<polygon points="119.69,460.30 121.99,464.44 117.39,464.44" fill="none" stroke="#000" stroke-width="1.0"/>
<polygon points="119.51,460.95 121.81,465.09 117.21,465.09" fill="none" stroke="#000" stroke-width="1.0"/>
<polygon points="119.41,461.32 121.71,465.46 117.11,465.46" fill="none" stroke="#000" stroke-width="1.0"/>
<polygon points="119.13,462.33 121.43,466.47 116.83,466.47" fill="none" stroke="#000" stroke-width="1.0"/>
<polygon points="119.04,462.64 121.34,466.78 116.74,466.78" fill="none" stroke="#000" stroke-width="1.0"/>
<polygon points="118.90,463.15 121.20,467.29 116.60,467.29" fill="none" stroke="#000" stroke-width="1.0"/>
<polygon points="118.68,463.93 120.98,468.07 116.38,468.07" fill="none" stroke="#000" stroke-width="1.0"/>
<polygon points="118.39,464.96 120.69,469.10 116.09,469.10" fill="none" stroke="#000" stroke-width="1.0"/>
<polygon points="118.27,465.42 120.57,469.56 115.97,469.56" fill="none" stroke="#000" stroke-width="1.0"/>
<polygon points="118.18,465.74 120.48,469.88 115.88,469.88" fill="none" stroke="#000" stroke-width="1.0"/>
<polygon points="117.80,467.09 120.10,471.23 115.50,471.23" fill="none" stroke="#000" stroke-width="1.0"/>
<polygon points="117.62,467.75 119.92,471.89 115.32,471.89" fill="none" stroke="#000" stroke-width="1.0"/>
<polygon points="117.21,469.22 119.51,473.36 114.91,473.36" fill="none" stroke="#000" stroke-width="1.0"/>
<polygon points="116.82,470.60 119.12,474.74 114.52,474.74" fill="none" stroke="#000" stroke-width="1.0"/>
<polygon points="116.62,471.34 118.92,475.48 114.32,475.48" fill="none" stroke="#000" stroke-width="1.0"/>
<polygon points="116.38,472.19 118.68,476.33 114.08,476.33" fill="none" stroke="#000" stroke-width="1.0"/>
<polygon points="116.13,473.10 118.43,477.24 113.83,477.24" fill="none" stroke="#000" stroke-width="1.0"/>
<polygon points="115.83,474.17 118.13,478.31 113.53,478.31" fill="none" stroke="#000" stroke-width="1.0"/>
<polygon points="115.55,475.18 117.85,479.32 113.25,479.32" fill="none" stroke="#000" stroke-width="1.0"/>
<polygon points="115.28,476.15 117.58,480.29 112.98,480.29" fill="none" stroke="#000" stroke-width="1.0"/>
<polygon points="114.99,477.19 117.29,481.33 112.69,481.33" fill="none" stroke="#000" stroke-width="1.0"/>
<polygon points="114.58,478.63 116.88,482.77 112.28,482.77" fill="none" stroke="#000" stroke-width="1.0"/>
<polygon points="114.33,479.53 116.63,483.67 112.03,483.67" fill="none" stroke="#000" stroke-width="1.0"/>
<polygon points="114.11,480.34 116.41,484.48 111.81,484.48" fill="none" stroke="#000" stroke-width="1.0"/>
<polygon points="113.78,481.51 116.08,485.65 111.48,485.65" fill="none" stroke="#000" stroke-width="1.0"/>
<polygon points="113.63,482.07 115.93,486.21 111.33,486.21" fill="none" stroke="#000" stroke-width="1.0"/>
<polygon points="113.45,482.71 115.75,486.85 111.15,486.85" fill="none" stroke="#000" stroke-width="1.0"/>
<polygon points="113.03,484.20 115.33,488.34 110.73,488.34" fill="none" stroke="#000" stroke-width="1.0"/>
<polygon points="112.78,485.12 115.08,489.26 110.48,489.26" fill="none" stroke="#000" stroke-width="1.0"/>
<polygon points="112.51,486.07 114.81,490.21 110.21,490.21" fill="none" stroke="#000" stroke-width="1.0"/>
<polygon points="112.49,486.14 114.79,490.28 110.19,490.28" fill="none" stroke="#000" stroke-width="1.0"/>
<circle cx="266.56" cy="308.96" r="2.2" fill="none" stroke="#b5504e" stroke-width="1.35"/>
<circle cx="264.24" cy="311.04" r="2.2" fill="none" stroke="#b5504e" stroke-width="1.35"/>
<circle cx="261.92" cy="313.12" r="2.2" fill="none" stroke="#b5504e" stroke-width="1.35"/>
<circle cx="251.65" cy="322.34" r="2.2" fill="none" stroke="#b5504e" stroke-width="1.35"/>
<circle cx="250.49" cy="323.38" r="2.2" fill="none" stroke="#b5504e" stroke-width="1.35"/>
<circle cx="240.22" cy="332.59" r="2.2" fill="none" stroke="#b5504e" stroke-width="1.35"/>
<circle cx="238.57" cy="334.08" r="2.2" fill="none" stroke="#b5504e" stroke-width="1.35"/>
<circle cx="225.81" cy="345.52" r="2.2" fill="none" stroke="#b5504e" stroke-width="1.35"/>
<circle cx="221.17" cy="349.68" r="2.2" fill="none" stroke="#b5504e" stroke-width="1.35"/>
<circle cx="210.90" cy="358.89" r="2.2" fill="none" stroke="#b5504e" stroke-width="1.35"/>
<circle cx="201.62" cy="367.21" r="2.2" fill="none" stroke="#b5504e" stroke-width="1.35"/>
<circle cx="195.82" cy="372.41" r="2.2" fill="none" stroke="#b5504e" stroke-width="1.35"/>
<circle cx="182.57" cy="384.30" r="2.2" fill="none" stroke="#b5504e" stroke-width="1.35"/>
<circle cx="177.27" cy="389.06" r="2.2" fill="none" stroke="#b5504e" stroke-width="1.35"/>
<circle cx="168.65" cy="396.78" r="2.2" fill="none" stroke="#b5504e" stroke-width="1.35"/>
<circle cx="156.06" cy="408.08" r="2.2" fill="none" stroke="#b5504e" stroke-width="1.35"/>
<circle cx="148.11" cy="415.21" r="2.2" fill="none" stroke="#b5504e" stroke-width="1.35"/>
<circle cx="145.30" cy="417.74" r="2.2" fill="none" stroke="#b5504e" stroke-width="1.35"/>
<circle cx="133.86" cy="427.99" r="2.2" fill="none" stroke="#b5504e" stroke-width="1.35"/>
<circle cx="127.90" cy="433.34" r="2.2" fill="none" stroke="#b5504e" stroke-width="1.35"/>
<circle cx="126.67" cy="434.45" r="2.0240000000000005" fill="none" stroke="#b5504e" stroke-width="1.35"/>
<circle cx="126.14" cy="434.92" r="2.0240000000000005" fill="none" stroke="#b5504e" stroke-width="1.35"/>
<circle cx="124.65" cy="436.26" r="2.0240000000000005" fill="none" stroke="#b5504e" stroke-width="1.35"/>
<circle cx="123.01" cy="437.73" r="2.0240000000000005" fill="none" stroke="#b5504e" stroke-width="1.35"/>
<circle cx="121.45" cy="439.13" r="2.0240000000000005" fill="none" stroke="#b5504e" stroke-width="1.35"/>
<circle cx="120.36" cy="440.10" r="2.0240000000000005" fill="none" stroke="#b5504e" stroke-width="1.35"/>
<circle cx="119.07" cy="441.26" r="2.0240000000000005" fill="none" stroke="#b5504e" stroke-width="1.35"/>
<circle cx="118.48" cy="441.79" r="2.0240000000000005" fill="none" stroke="#b5504e" stroke-width="1.35"/>
<circle cx="117.02" cy="443.10" r="2.0240000000000005" fill="none" stroke="#b5504e" stroke-width="1.35"/>
<circle cx="115.92" cy="444.08" r="2.0240000000000005" fill="none" stroke="#b5504e" stroke-width="1.35"/>
<circle cx="115.23" cy="444.71" r="2.0240000000000005" fill="none" stroke="#b5504e" stroke-width="1.35"/>
<circle cx="114.84" cy="445.05" r="2.0240000000000005" fill="none" stroke="#b5504e" stroke-width="1.35"/>
<circle cx="113.36" cy="446.39" r="2.0240000000000005" fill="none" stroke="#b5504e" stroke-width="1.35"/>
<circle cx="111.68" cy="447.89" r="2.0240000000000005" fill="none" stroke="#b5504e" stroke-width="1.35"/>
<circle cx="111.26" cy="448.27" r="2.0240000000000005" fill="none" stroke="#b5504e" stroke-width="1.35"/>
<circle cx="109.85" cy="449.53" r="2.0240000000000005" fill="none" stroke="#b5504e" stroke-width="1.35"/>
<circle cx="108.98" cy="450.31" r="2.0240000000000005" fill="none" stroke="#b5504e" stroke-width="1.35"/>
<circle cx="108.47" cy="450.77" r="2.0240000000000005" fill="none" stroke="#b5504e" stroke-width="1.35"/>
<circle cx="107.76" cy="451.40" r="2.0240000000000005" fill="none" stroke="#b5504e" stroke-width="1.35"/>
<circle cx="106.39" cy="452.63" r="2.0240000000000005" fill="none" stroke="#b5504e" stroke-width="1.35"/>
<circle cx="104.88" cy="453.99" r="2.0240000000000005" fill="none" stroke="#b5504e" stroke-width="1.35"/>
<circle cx="104.52" cy="454.31" r="2.0240000000000005" fill="none" stroke="#b5504e" stroke-width="1.35"/>
<circle cx="103.37" cy="455.34" r="2.0240000000000005" fill="none" stroke="#b5504e" stroke-width="1.35"/>
<circle cx="103.01" cy="455.67" r="2.0240000000000005" fill="none" stroke="#b5504e" stroke-width="1.35"/>
<circle cx="101.71" cy="456.83" r="2.0240000000000005" fill="none" stroke="#b5504e" stroke-width="1.35"/>
<circle cx="100.95" cy="457.51" r="2.0240000000000005" fill="none" stroke="#b5504e" stroke-width="1.35"/>
<circle cx="99.43" cy="458.88" r="2.0240000000000005" fill="none" stroke="#b5504e" stroke-width="1.35"/>
<circle cx="97.76" cy="460.37" r="2.0240000000000005" fill="none" stroke="#b5504e" stroke-width="1.35"/>
<circle cx="96.76" cy="461.27" r="2.0240000000000005" fill="none" stroke="#b5504e" stroke-width="1.35"/>
<circle cx="95.07" cy="462.78" r="2.0240000000000005" fill="none" stroke="#b5504e" stroke-width="1.35"/>
<circle cx="94.34" cy="463.44" r="2.0240000000000005" fill="none" stroke="#b5504e" stroke-width="1.35"/>
<circle cx="93.94" cy="463.80" r="2.0240000000000005" fill="none" stroke="#b5504e" stroke-width="1.35"/>
<circle cx="92.81" cy="464.82" r="2.0240000000000005" fill="none" stroke="#b5504e" stroke-width="1.35"/>
<circle cx="92.46" cy="465.12" r="2.0240000000000005" fill="none" stroke="#b5504e" stroke-width="1.35"/>
<circle cx="91.89" cy="465.64" r="2.0240000000000005" fill="none" stroke="#b5504e" stroke-width="1.35"/>
<circle cx="91.03" cy="466.42" r="2.0240000000000005" fill="none" stroke="#b5504e" stroke-width="1.35"/>
<circle cx="89.88" cy="467.44" r="2.0240000000000005" fill="none" stroke="#b5504e" stroke-width="1.35"/>
<circle cx="89.36" cy="467.91" r="2.0240000000000005" fill="none" stroke="#b5504e" stroke-width="1.35"/>
<circle cx="89.01" cy="468.23" r="2.0240000000000005" fill="none" stroke="#b5504e" stroke-width="1.35"/>
<circle cx="87.50" cy="469.58" r="2.0240000000000005" fill="none" stroke="#b5504e" stroke-width="1.35"/>
<circle cx="86.76" cy="470.24" r="2.0240000000000005" fill="none" stroke="#b5504e" stroke-width="1.35"/>
<circle cx="85.13" cy="471.70" r="2.0240000000000005" fill="none" stroke="#b5504e" stroke-width="1.35"/>
<circle cx="83.59" cy="473.09" r="2.0240000000000005" fill="none" stroke="#b5504e" stroke-width="1.35"/>
<circle cx="82.76" cy="473.83" r="2.0240000000000005" fill="none" stroke="#b5504e" stroke-width="1.35"/>
<circle cx="81.82" cy="474.67" r="2.0240000000000005" fill="none" stroke="#b5504e" stroke-width="1.35"/>
<circle cx="80.80" cy="475.59" r="2.0240000000000005" fill="none" stroke="#b5504e" stroke-width="1.35"/>
<circle cx="79.61" cy="476.66" r="2.0240000000000005" fill="none" stroke="#b5504e" stroke-width="1.35"/>
<circle cx="78.48" cy="477.67" r="2.0240000000000005" fill="none" stroke="#b5504e" stroke-width="1.35"/>
<circle cx="77.40" cy="478.63" r="2.0240000000000005" fill="none" stroke="#b5504e" stroke-width="1.35"/>
<circle cx="76.24" cy="479.68" r="2.0240000000000005" fill="none" stroke="#b5504e" stroke-width="1.35"/>
<circle cx="74.64" cy="481.12" r="2.0240000000000005" fill="none" stroke="#b5504e" stroke-width="1.35"/>
<circle cx="73.63" cy="482.02" r="2.0240000000000005" fill="none" stroke="#b5504e" stroke-width="1.35"/>
<circle cx="72.73" cy="482.82" r="2.0240000000000005" fill="none" stroke="#b5504e" stroke-width="1.35"/>
<circle cx="71.43" cy="483.99" r="2.0240000000000005" fill="none" stroke="#b5504e" stroke-width="1.35"/>
<circle cx="70.80" cy="484.55" r="2.0240000000000005" fill="none" stroke="#b5504e" stroke-width="1.35"/>
<circle cx="70.09" cy="485.20" r="2.0240000000000005" fill="none" stroke="#b5504e" stroke-width="1.35"/>
<circle cx="68.43" cy="486.69" r="2.0240000000000005" fill="none" stroke="#b5504e" stroke-width="1.35"/>
<circle cx="67.40" cy="487.60" r="2.0240000000000005" fill="none" stroke="#b5504e" stroke-width="1.35"/>
<circle cx="66.34" cy="488.56" r="2.0240000000000005" fill="none" stroke="#b5504e" stroke-width="1.35"/>
<circle cx="66.27" cy="488.62" r="2.0240000000000005" fill="none" stroke="#b5504e" stroke-width="1.35"/>
<rect x="164.49" y="306.56" width="4.8" height="4.8" fill="none" stroke="#1f6fc0" stroke-width="1.25"/>
<rect x="163.84" y="308.64" width="4.8" height="4.8" fill="none" stroke="#1f6fc0" stroke-width="1.25"/>
<rect x="163.19" y="310.72" width="4.8" height="4.8" fill="none" stroke="#1f6fc0" stroke-width="1.25"/>
<rect x="160.30" y="319.94" width="4.8" height="4.8" fill="none" stroke="#1f6fc0" stroke-width="1.25"/>
<rect x="159.98" y="320.98" width="4.8" height="4.8" fill="none" stroke="#1f6fc0" stroke-width="1.25"/>
<rect x="157.09" y="330.19" width="4.8" height="4.8" fill="none" stroke="#1f6fc0" stroke-width="1.25"/>
<rect x="156.62" y="331.68" width="4.8" height="4.8" fill="none" stroke="#1f6fc0" stroke-width="1.25"/>
<rect x="153.03" y="343.12" width="4.8" height="4.8" fill="none" stroke="#1f6fc0" stroke-width="1.25"/>
<rect x="151.73" y="347.28" width="4.8" height="4.8" fill="none" stroke="#1f6fc0" stroke-width="1.25"/>
<rect x="148.84" y="356.49" width="4.8" height="4.8" fill="none" stroke="#1f6fc0" stroke-width="1.25"/>
<rect x="146.23" y="364.81" width="4.8" height="4.8" fill="none" stroke="#1f6fc0" stroke-width="1.25"/>
<rect x="144.60" y="370.01" width="4.8" height="4.8" fill="none" stroke="#1f6fc0" stroke-width="1.25"/>
<rect x="140.87" y="381.90" width="4.8" height="4.8" fill="none" stroke="#1f6fc0" stroke-width="1.25"/>
<rect x="139.38" y="386.66" width="4.8" height="4.8" fill="none" stroke="#1f6fc0" stroke-width="1.25"/>
<rect x="136.96" y="394.38" width="4.8" height="4.8" fill="none" stroke="#1f6fc0" stroke-width="1.25"/>
<rect x="133.42" y="405.68" width="4.8" height="4.8" fill="none" stroke="#1f6fc0" stroke-width="1.25"/>
<rect x="131.18" y="412.81" width="4.8" height="4.8" fill="none" stroke="#1f6fc0" stroke-width="1.25"/>
<rect x="130.39" y="415.34" width="4.8" height="4.8" fill="none" stroke="#1f6fc0" stroke-width="1.25"/>
<rect x="127.18" y="425.59" width="4.8" height="4.8" fill="none" stroke="#1f6fc0" stroke-width="1.25"/>
<rect x="125.50" y="430.94" width="4.8" height="4.8" fill="none" stroke="#1f6fc0" stroke-width="1.25"/>
<rect x="125.39" y="432.29" width="4.32" height="4.32" fill="none" stroke="#1f6fc0" stroke-width="1.25"/>
<rect x="125.25" y="432.76" width="4.32" height="4.32" fill="none" stroke="#1f6fc0" stroke-width="1.25"/>
<rect x="124.83" y="434.10" width="4.32" height="4.32" fill="none" stroke="#1f6fc0" stroke-width="1.25"/>
<rect x="124.36" y="435.57" width="4.32" height="4.32" fill="none" stroke="#1f6fc0" stroke-width="1.25"/>
<rect x="123.93" y="436.97" width="4.32" height="4.32" fill="none" stroke="#1f6fc0" stroke-width="1.25"/>
<rect x="123.62" y="437.94" width="4.32" height="4.32" fill="none" stroke="#1f6fc0" stroke-width="1.25"/>
<rect x="123.26" y="439.10" width="4.32" height="4.32" fill="none" stroke="#1f6fc0" stroke-width="1.25"/>
<rect x="123.09" y="439.63" width="4.32" height="4.32" fill="none" stroke="#1f6fc0" stroke-width="1.25"/>
<rect x="122.68" y="440.94" width="4.32" height="4.32" fill="none" stroke="#1f6fc0" stroke-width="1.25"/>
<rect x="122.37" y="441.92" width="4.32" height="4.32" fill="none" stroke="#1f6fc0" stroke-width="1.25"/>
<rect x="122.18" y="442.55" width="4.32" height="4.32" fill="none" stroke="#1f6fc0" stroke-width="1.25"/>
<rect x="122.07" y="442.89" width="4.32" height="4.32" fill="none" stroke="#1f6fc0" stroke-width="1.25"/>
<rect x="121.65" y="444.23" width="4.32" height="4.32" fill="none" stroke="#1f6fc0" stroke-width="1.25"/>
<rect x="121.18" y="445.73" width="4.32" height="4.32" fill="none" stroke="#1f6fc0" stroke-width="1.25"/>
<rect x="121.06" y="446.11" width="4.32" height="4.32" fill="none" stroke="#1f6fc0" stroke-width="1.25"/>
<rect x="120.66" y="447.37" width="4.32" height="4.32" fill="none" stroke="#1f6fc0" stroke-width="1.25"/>
<rect x="120.42" y="448.15" width="4.32" height="4.32" fill="none" stroke="#1f6fc0" stroke-width="1.25"/>
<rect x="120.28" y="448.61" width="4.32" height="4.32" fill="none" stroke="#1f6fc0" stroke-width="1.25"/>
<rect x="120.08" y="449.24" width="4.32" height="4.32" fill="none" stroke="#1f6fc0" stroke-width="1.25"/>
<rect x="119.69" y="450.47" width="4.32" height="4.32" fill="none" stroke="#1f6fc0" stroke-width="1.25"/>
<rect x="119.27" y="451.83" width="4.32" height="4.32" fill="none" stroke="#1f6fc0" stroke-width="1.25"/>
<rect x="119.17" y="452.15" width="4.32" height="4.32" fill="none" stroke="#1f6fc0" stroke-width="1.25"/>
<rect x="118.84" y="453.18" width="4.32" height="4.32" fill="none" stroke="#1f6fc0" stroke-width="1.25"/>
<rect x="118.74" y="453.51" width="4.32" height="4.32" fill="none" stroke="#1f6fc0" stroke-width="1.25"/>
<rect x="118.37" y="454.67" width="4.32" height="4.32" fill="none" stroke="#1f6fc0" stroke-width="1.25"/>
<rect x="118.16" y="455.35" width="4.32" height="4.32" fill="none" stroke="#1f6fc0" stroke-width="1.25"/>
<rect x="117.73" y="456.72" width="4.32" height="4.32" fill="none" stroke="#1f6fc0" stroke-width="1.25"/>
<rect x="117.27" y="458.21" width="4.32" height="4.32" fill="none" stroke="#1f6fc0" stroke-width="1.25"/>
<rect x="116.98" y="459.11" width="4.32" height="4.32" fill="none" stroke="#1f6fc0" stroke-width="1.25"/>
<rect x="116.51" y="460.62" width="4.32" height="4.32" fill="none" stroke="#1f6fc0" stroke-width="1.25"/>
<rect x="116.30" y="461.28" width="4.32" height="4.32" fill="none" stroke="#1f6fc0" stroke-width="1.25"/>
<rect x="116.19" y="461.64" width="4.32" height="4.32" fill="none" stroke="#1f6fc0" stroke-width="1.25"/>
<rect x="115.87" y="462.66" width="4.32" height="4.32" fill="none" stroke="#1f6fc0" stroke-width="1.25"/>
<rect x="115.78" y="462.96" width="4.32" height="4.32" fill="none" stroke="#1f6fc0" stroke-width="1.25"/>
<rect x="115.61" y="463.48" width="4.32" height="4.32" fill="none" stroke="#1f6fc0" stroke-width="1.25"/>
<rect x="115.37" y="464.26" width="4.32" height="4.32" fill="none" stroke="#1f6fc0" stroke-width="1.25"/>
<rect x="115.05" y="465.28" width="4.32" height="4.32" fill="none" stroke="#1f6fc0" stroke-width="1.25"/>
<rect x="114.90" y="465.75" width="4.32" height="4.32" fill="none" stroke="#1f6fc0" stroke-width="1.25"/>
<rect x="114.80" y="466.07" width="4.32" height="4.32" fill="none" stroke="#1f6fc0" stroke-width="1.25"/>
<rect x="114.38" y="467.42" width="4.32" height="4.32" fill="none" stroke="#1f6fc0" stroke-width="1.25"/>
<rect x="114.17" y="468.08" width="4.32" height="4.32" fill="none" stroke="#1f6fc0" stroke-width="1.25"/>
<rect x="113.71" y="469.54" width="4.32" height="4.32" fill="none" stroke="#1f6fc0" stroke-width="1.25"/>
<rect x="113.28" y="470.93" width="4.32" height="4.32" fill="none" stroke="#1f6fc0" stroke-width="1.25"/>
<rect x="113.05" y="471.67" width="4.32" height="4.32" fill="none" stroke="#1f6fc0" stroke-width="1.25"/>
<rect x="112.78" y="472.51" width="4.32" height="4.32" fill="none" stroke="#1f6fc0" stroke-width="1.25"/>
<rect x="112.50" y="473.43" width="4.32" height="4.32" fill="none" stroke="#1f6fc0" stroke-width="1.25"/>
<rect x="112.16" y="474.50" width="4.32" height="4.32" fill="none" stroke="#1f6fc0" stroke-width="1.25"/>
<rect x="111.84" y="475.51" width="4.32" height="4.32" fill="none" stroke="#1f6fc0" stroke-width="1.25"/>
<rect x="111.54" y="476.47" width="4.32" height="4.32" fill="none" stroke="#1f6fc0" stroke-width="1.25"/>
<rect x="111.21" y="477.52" width="4.32" height="4.32" fill="none" stroke="#1f6fc0" stroke-width="1.25"/>
<rect x="110.76" y="478.96" width="4.32" height="4.32" fill="none" stroke="#1f6fc0" stroke-width="1.25"/>
<rect x="110.48" y="479.86" width="4.32" height="4.32" fill="none" stroke="#1f6fc0" stroke-width="1.25"/>
<rect x="110.23" y="480.66" width="4.32" height="4.32" fill="none" stroke="#1f6fc0" stroke-width="1.25"/>
<rect x="109.86" y="481.83" width="4.32" height="4.32" fill="none" stroke="#1f6fc0" stroke-width="1.25"/>
<rect x="109.68" y="482.39" width="4.32" height="4.32" fill="none" stroke="#1f6fc0" stroke-width="1.25"/>
<rect x="109.48" y="483.04" width="4.32" height="4.32" fill="none" stroke="#1f6fc0" stroke-width="1.25"/>
<rect x="109.02" y="484.53" width="4.32" height="4.32" fill="none" stroke="#1f6fc0" stroke-width="1.25"/>
<rect x="108.73" y="485.44" width="4.32" height="4.32" fill="none" stroke="#1f6fc0" stroke-width="1.25"/>
<rect x="108.43" y="486.40" width="4.32" height="4.32" fill="none" stroke="#1f6fc0" stroke-width="1.25"/>
<rect x="108.41" y="486.46" width="4.32" height="4.32" fill="none" stroke="#1f6fc0" stroke-width="1.25"/>
<text x="117.3" y="537.2" class="at">U<tspan font-size="7.5" dy="2.5">3</tspan><tspan dy="-2.5"> (m/s) in D2, D3, D4</tspan></text>
<text transform="translate(20,439) rotate(-90)" class="at" style="font-size:10.9px">U<tspan font-size="7.5" dy="2.5">3</tspan><tspan dy="-2.5"> (m/s) in D1</tspan></text>
<path d="M361,327 H671 V436.5 H309.5 V350 H671 M361,327 V436.5 M529.5,327 V436.5" fill="none" stroke="#000" stroke-width="1.5"/>
<text x="444.5" y="346.0" text-anchor="middle" class="tb">slope</text>
<text x="600" y="346.0" text-anchor="middle" class="tb">intercept</text>
<text x="404.3" y="369.0" text-anchor="middle" class="tr">ideal</text>
<text x="488.5" y="369.0" text-anchor="middle" class="tr">% deviation</text>
<text x="562.2" y="369.0" text-anchor="middle" class="tr">ideal</text>
<text x="633.5" y="369.0" text-anchor="middle" class="tr">simulated</text>
<text x="317.8" y="390.3" class="tb">D1:D2</text>
<text x="404.3" y="390.3" text-anchor="middle" class="tr">2</text>
<text x="488.5" y="390.3" text-anchor="middle" class="tr">7.21E-04</text>
<text x="562.2" y="390.3" text-anchor="middle" class="tr">0</text>
<text x="633.5" y="390.3" text-anchor="middle" class="tr">9.60E-11</text>
<text x="317.8" y="411.5" class="tb">D1:D3</text>
<text x="404.3" y="411.5" text-anchor="middle" class="tr">0.5</text>
<text x="488.5" y="411.5" text-anchor="middle" class="tr">8.01E-06</text>
<text x="562.2" y="411.5" text-anchor="middle" class="tr">0</text>
<text x="633.5" y="411.5" text-anchor="middle" class="tr">4.13E-11</text>
<text x="317.8" y="432.7" class="tb">D1:D4</text>
<text x="404.3" y="432.7" text-anchor="middle" class="tr">1.778</text>
<text x="488.5" y="432.7" text-anchor="middle" class="tr">1.94E-03</text>
<text x="562.2" y="432.7" text-anchor="middle" class="tr">0</text>
<text x="633.5" y="432.7" text-anchor="middle" class="tr">7.86E-11</text>
<text x="336.7" y="556.7" text-anchor="middle" class="ti">c) t= 20 s in D1, t= 10 s in D2, t= 40 s in D3, t= 11.25 s in D4</text>
<rect x="2.7" y="560.7" width="297.9" height="252.6" fill="#fff" stroke="#d9d9d9" stroke-width="1"/>
<line x1="37.80" y1="571.1" x2="37.80" y2="791.3" stroke="#d9d9d9" stroke-width="1"/>
<line x1="97.50" y1="571.1" x2="97.50" y2="791.3" stroke="#d9d9d9" stroke-width="1"/>
<line x1="216.90" y1="571.1" x2="216.90" y2="791.3" stroke="#d9d9d9" stroke-width="1"/>
<line x1="276.60" y1="571.1" x2="276.60" y2="791.3" stroke="#d9d9d9" stroke-width="1"/>
<line x1="37.8" y1="791.30" x2="276.6" y2="791.30" stroke="#d9d9d9" stroke-width="1"/>
<line x1="37.8" y1="759.84" x2="276.6" y2="759.84" stroke="#d9d9d9" stroke-width="1"/>
<line x1="37.8" y1="728.39" x2="276.6" y2="728.39" stroke="#d9d9d9" stroke-width="1"/>
<line x1="37.8" y1="696.93" x2="276.6" y2="696.93" stroke="#d9d9d9" stroke-width="1"/>
<line x1="37.8" y1="634.01" x2="276.6" y2="634.01" stroke="#d9d9d9" stroke-width="1"/>
<line x1="37.8" y1="602.56" x2="276.6" y2="602.56" stroke="#d9d9d9" stroke-width="1"/>
<line x1="37.8" y1="571.10" x2="276.6" y2="571.10" stroke="#d9d9d9" stroke-width="1"/>
<polygon points="247.00,732.81 249.40,737.13 244.60,737.13" fill="#000"/>
<text x="253.7" y="739.80" class="lg">D2</text>
<circle cx="247.00" cy="753.20" r="2.1" fill="#c8232c" stroke="#a81e26" stroke-width="0.5"/>
<text x="253.7" y="757.60" class="lg">D3</text>
<rect x="244.70" y="768.70" width="4.6" height="4.6" fill="#1b71ca"/>
<text x="253.7" y="775.40" class="lg">D4</text>
<line x1="37.8" y1="665.47" x2="276.6" y2="665.47" stroke="#262626" stroke-width="1.3"/>
<line x1="157.20" y1="571.1" x2="157.20" y2="791.3" stroke="#262626" stroke-width="1.3"/>
<line x1="37.80" y1="665.47" x2="37.80" y2="668.97" stroke="#262626" stroke-width="1.3"/>
<line x1="97.50" y1="665.47" x2="97.50" y2="668.97" stroke="#262626" stroke-width="1.3"/>
<line x1="157.20" y1="665.47" x2="157.20" y2="668.97" stroke="#262626" stroke-width="1.3"/>
<line x1="216.90" y1="665.47" x2="216.90" y2="668.97" stroke="#262626" stroke-width="1.3"/>
<line x1="276.60" y1="665.47" x2="276.60" y2="668.97" stroke="#262626" stroke-width="1.3"/>
<line x1="157.20" y1="791.30" x2="153.70" y2="791.30" stroke="#262626" stroke-width="1.3"/>
<line x1="157.20" y1="759.84" x2="153.70" y2="759.84" stroke="#262626" stroke-width="1.3"/>
<line x1="157.20" y1="728.39" x2="153.70" y2="728.39" stroke="#262626" stroke-width="1.3"/>
<line x1="157.20" y1="696.93" x2="153.70" y2="696.93" stroke="#262626" stroke-width="1.3"/>
<line x1="157.20" y1="665.47" x2="153.70" y2="665.47" stroke="#262626" stroke-width="1.3"/>
<line x1="157.20" y1="634.01" x2="153.70" y2="634.01" stroke="#262626" stroke-width="1.3"/>
<line x1="157.20" y1="602.56" x2="153.70" y2="602.56" stroke="#262626" stroke-width="1.3"/>
<line x1="157.20" y1="571.10" x2="153.70" y2="571.10" stroke="#262626" stroke-width="1.3"/>
<text x="37.80" y="684.6" text-anchor="middle" class="tl">-6.0E-05</text>
<text x="97.50" y="684.6" text-anchor="middle" class="tl">-3.0E-05</text>
<text x="157.20" y="684.6" text-anchor="middle" class="tl">0.0E+00</text>
<text x="216.90" y="684.6" text-anchor="middle" class="tl">3.0E-05</text>
<text x="276.60" y="684.6" text-anchor="middle" class="tl">6.0E-05</text>
<text x="146" y="795.10" text-anchor="end" class="tl">-4.0E-05</text>
<text x="146" y="763.64" text-anchor="end" class="tl">-3.0E-05</text>
<text x="146" y="732.19" text-anchor="end" class="tl">-2.0E-05</text>
<text x="146" y="700.73" text-anchor="end" class="tl">-1.0E-05</text>
<text x="146" y="669.27" text-anchor="end" class="tl">0.0E+00</text>
<text x="146" y="637.81" text-anchor="end" class="tl">1.0E-05</text>
<text x="146" y="606.36" text-anchor="end" class="tl">2.0E-05</text>
<text x="146" y="574.90" text-anchor="end" class="tl">3.0E-05</text>
<polygon points="183.64,579.30 186.04,583.62 181.24,583.62" fill="#000"/>
<polygon points="183.07,581.09 185.47,585.41 180.67,585.41" fill="#000"/>
<polygon points="182.47,582.98 184.87,587.30 180.07,587.30" fill="#000"/>
<polygon points="181.88,584.87 184.28,589.19 179.48,589.19" fill="#000"/>
<polygon points="181.28,586.75 183.68,591.07 178.88,591.07" fill="#000"/>
<polygon points="180.68,588.64 183.08,592.96 178.28,592.96" fill="#000"/>
<polygon points="180.08,590.53 182.48,594.85 177.68,594.85" fill="#000"/>
<polygon points="179.79,591.47 182.19,595.79 177.39,595.79" fill="#000"/>
<polygon points="178.89,594.30 181.29,598.62 176.49,598.62" fill="#000"/>
<polygon points="177.90,597.45 180.30,601.77 175.50,601.77" fill="#000"/>
<polygon points="176.60,601.54 179.00,605.86 174.20,605.86" fill="#000"/>
<polygon points="175.71,604.37 178.11,608.69 173.31,608.69" fill="#000"/>
<polygon points="174.71,607.51 177.11,611.83 172.31,611.83" fill="#000"/>
<polygon points="172.62,614.12 175.02,618.44 170.22,618.44" fill="#000"/>
<polygon points="172.22,615.38 174.62,619.70 169.82,619.70" fill="#000"/>
<polygon points="169.84,622.93 172.24,627.25 167.44,627.25" fill="#000"/>
<polygon points="169.14,625.13 171.54,629.45 166.74,629.45" fill="#000"/>
<polygon points="167.75,629.53 170.15,633.85 165.35,633.85" fill="#000"/>
<polygon points="166.95,632.05 169.35,636.37 164.55,636.37" fill="#000"/>
<polygon points="165.56,636.46 167.96,640.78 163.16,640.78" fill="#000"/>
<polygon points="164.56,639.60 166.96,643.92 162.16,643.92" fill="#000"/>
<polygon points="162.97,644.63 165.37,648.95 160.57,648.95" fill="#000"/>
<polygon points="162.37,646.52 164.77,650.84 159.97,650.84" fill="#000"/>
<polygon points="161.48,649.35 163.88,653.67 159.08,653.67" fill="#000"/>
<polygon points="160.58,652.18 162.98,656.50 158.18,656.50" fill="#000"/>
<polygon points="159.54,655.49 161.94,659.81 157.14,659.81" fill="#000"/>
<polygon points="158.59,658.48 160.99,662.80 156.19,662.80" fill="#000"/>
<polygon points="157.90,660.68 160.30,665.00 155.50,665.00" fill="#000"/>
<polygon points="157.20,662.88 159.60,667.20 154.80,667.20" fill="#000"/>
<polygon points="156.60,664.79 159.00,669.11 154.20,669.11" fill="#000"/>
<polygon points="155.91,666.96 158.31,671.28 153.51,671.28" fill="#000"/>
<polygon points="155.51,668.22 157.91,672.54 153.11,672.54" fill="#000"/>
<polygon points="154.80,670.45 157.20,674.77 152.40,674.77" fill="#000"/>
<polygon points="154.09,672.72 156.49,677.04 151.69,677.04" fill="#000"/>
<polygon points="153.67,674.04 156.07,678.36 151.27,678.36" fill="#000"/>
<polygon points="152.96,676.29 155.36,680.61 150.56,680.61" fill="#000"/>
<polygon points="152.33,678.28 154.73,682.60 149.93,682.60" fill="#000"/>
<polygon points="151.59,680.62 153.99,684.94 149.19,684.94" fill="#000"/>
<polygon points="151.02,682.42 153.42,686.74 148.62,686.74" fill="#000"/>
<polygon points="150.26,684.81 152.66,689.13 147.86,689.13" fill="#000"/>
<polygon points="149.49,687.24 151.89,691.56 147.09,691.56" fill="#000"/>
<polygon points="149.09,688.51 151.49,692.83 146.69,692.83" fill="#000"/>
<polygon points="148.68,689.83 151.08,694.15 146.28,694.15" fill="#000"/>
<polygon points="147.94,692.16 150.34,696.48 145.54,696.48" fill="#000"/>
<polygon points="147.05,694.97 149.45,699.29 144.65,699.29" fill="#000"/>
<polygon points="146.53,696.60 148.93,700.92 144.13,700.92" fill="#000"/>
<polygon points="145.91,698.58 148.31,702.90 143.51,702.90" fill="#000"/>
<polygon points="145.21,700.77 147.61,705.09 142.81,705.09" fill="#000"/>
<polygon points="144.66,702.52 147.06,706.84 142.26,706.84" fill="#000"/>
<polygon points="144.08,704.35 146.48,708.67 141.68,708.67" fill="#000"/>
<polygon points="143.53,706.08 145.93,710.40 141.13,710.40" fill="#000"/>
<polygon points="142.96,707.92 145.36,712.24 140.56,712.24" fill="#000"/>
<polygon points="142.26,710.12 144.66,714.44 139.86,714.44" fill="#000"/>
<polygon points="141.72,711.83 144.12,716.15 139.32,716.15" fill="#000"/>
<polygon points="141.13,713.68 143.53,718.00 138.73,718.00" fill="#000"/>
<polygon points="140.73,714.94 143.13,719.26 138.33,719.26" fill="#000"/>
<polygon points="138.32,722.55 140.72,726.87 135.92,726.87" fill="#000"/>
<polygon points="136.45,728.47 138.85,732.79 134.05,732.79" fill="#000"/>
<polygon points="134.37,735.04 136.77,739.36 131.97,739.36" fill="#000"/>
<polygon points="131.59,743.85 133.99,748.17 129.19,748.17" fill="#000"/>
<polygon points="130.48,747.34 132.88,751.66 128.08,751.66" fill="#000"/>
<polygon points="129.34,750.96 131.74,755.28 126.94,755.28" fill="#000"/>
<polygon points="128.58,753.35 130.98,757.67 126.18,757.67" fill="#000"/>
<circle cx="262.95" cy="581.89" r="2.1" fill="#c8232c" stroke="#a81e26" stroke-width="0.5"/>
<circle cx="260.68" cy="583.68" r="2.1" fill="#c8232c" stroke="#a81e26" stroke-width="0.5"/>
<circle cx="258.29" cy="585.57" r="2.1" fill="#c8232c" stroke="#a81e26" stroke-width="0.5"/>
<circle cx="255.90" cy="587.46" r="2.1" fill="#c8232c" stroke="#a81e26" stroke-width="0.5"/>
<circle cx="253.52" cy="589.35" r="2.1" fill="#c8232c" stroke="#a81e26" stroke-width="0.5"/>
<circle cx="251.13" cy="591.23" r="2.1" fill="#c8232c" stroke="#a81e26" stroke-width="0.5"/>
<circle cx="248.74" cy="593.12" r="2.1" fill="#c8232c" stroke="#a81e26" stroke-width="0.5"/>
<circle cx="247.55" cy="594.06" r="2.1" fill="#c8232c" stroke="#a81e26" stroke-width="0.5"/>
<circle cx="243.96" cy="596.89" r="2.1" fill="#c8232c" stroke="#a81e26" stroke-width="0.5"/>
<circle cx="239.98" cy="600.04" r="2.1" fill="#c8232c" stroke="#a81e26" stroke-width="0.5"/>
<circle cx="234.81" cy="604.13" r="2.1" fill="#c8232c" stroke="#a81e26" stroke-width="0.5"/>
<circle cx="231.23" cy="606.96" r="2.1" fill="#c8232c" stroke="#a81e26" stroke-width="0.5"/>
<circle cx="227.25" cy="610.11" r="2.1" fill="#c8232c" stroke="#a81e26" stroke-width="0.5"/>
<circle cx="218.89" cy="616.71" r="2.1" fill="#c8232c" stroke="#a81e26" stroke-width="0.5"/>
<circle cx="217.30" cy="617.97" r="2.1" fill="#c8232c" stroke="#a81e26" stroke-width="0.5"/>
<circle cx="207.75" cy="625.52" r="2.1" fill="#c8232c" stroke="#a81e26" stroke-width="0.5"/>
<circle cx="204.96" cy="627.72" r="2.1" fill="#c8232c" stroke="#a81e26" stroke-width="0.5"/>
<circle cx="199.39" cy="632.13" r="2.1" fill="#c8232c" stroke="#a81e26" stroke-width="0.5"/>
<circle cx="196.20" cy="634.64" r="2.1" fill="#c8232c" stroke="#a81e26" stroke-width="0.5"/>
<circle cx="190.63" cy="639.05" r="2.1" fill="#c8232c" stroke="#a81e26" stroke-width="0.5"/>
<circle cx="186.65" cy="642.19" r="2.1" fill="#c8232c" stroke="#a81e26" stroke-width="0.5"/>
<circle cx="180.28" cy="647.23" r="2.1" fill="#c8232c" stroke="#a81e26" stroke-width="0.5"/>
<circle cx="177.90" cy="649.11" r="2.1" fill="#c8232c" stroke="#a81e26" stroke-width="0.5"/>
<circle cx="174.31" cy="651.94" r="2.1" fill="#c8232c" stroke="#a81e26" stroke-width="0.5"/>
<circle cx="170.73" cy="654.78" r="2.1" fill="#c8232c" stroke="#a81e26" stroke-width="0.5"/>
<circle cx="166.55" cy="658.08" r="2.1" fill="#c8232c" stroke="#a81e26" stroke-width="0.5"/>
<circle cx="162.77" cy="661.07" r="2.1" fill="#c8232c" stroke="#a81e26" stroke-width="0.5"/>
<circle cx="159.99" cy="663.27" r="2.1" fill="#c8232c" stroke="#a81e26" stroke-width="0.5"/>
<circle cx="157.20" cy="665.47" r="2.1" fill="#c8232c" stroke="#a81e26" stroke-width="0.5"/>
<circle cx="154.79" cy="667.38" r="2.1" fill="#c8232c" stroke="#a81e26" stroke-width="0.5"/>
<circle cx="152.04" cy="669.55" r="2.1" fill="#c8232c" stroke="#a81e26" stroke-width="0.5"/>
<circle cx="150.44" cy="670.81" r="2.1" fill="#c8232c" stroke="#a81e26" stroke-width="0.5"/>
<circle cx="147.62" cy="673.05" r="2.1" fill="#c8232c" stroke="#a81e26" stroke-width="0.5"/>
<circle cx="144.76" cy="675.31" r="2.1" fill="#c8232c" stroke="#a81e26" stroke-width="0.5"/>
<circle cx="143.08" cy="676.63" r="2.1" fill="#c8232c" stroke="#a81e26" stroke-width="0.5"/>
<circle cx="140.23" cy="678.89" r="2.1" fill="#c8232c" stroke="#a81e26" stroke-width="0.5"/>
<circle cx="137.71" cy="680.88" r="2.1" fill="#c8232c" stroke="#a81e26" stroke-width="0.5"/>
<circle cx="134.75" cy="683.21" r="2.1" fill="#c8232c" stroke="#a81e26" stroke-width="0.5"/>
<circle cx="132.47" cy="685.02" r="2.1" fill="#c8232c" stroke="#a81e26" stroke-width="0.5"/>
<circle cx="129.46" cy="687.40" r="2.1" fill="#c8232c" stroke="#a81e26" stroke-width="0.5"/>
<circle cx="126.38" cy="689.83" r="2.1" fill="#c8232c" stroke="#a81e26" stroke-width="0.5"/>
<circle cx="124.78" cy="691.10" r="2.1" fill="#c8232c" stroke="#a81e26" stroke-width="0.5"/>
<circle cx="123.10" cy="692.42" r="2.1" fill="#c8232c" stroke="#a81e26" stroke-width="0.5"/>
<circle cx="120.15" cy="694.76" r="2.1" fill="#c8232c" stroke="#a81e26" stroke-width="0.5"/>
<circle cx="116.60" cy="697.56" r="2.1" fill="#c8232c" stroke="#a81e26" stroke-width="0.5"/>
<circle cx="114.53" cy="699.20" r="2.1" fill="#c8232c" stroke="#a81e26" stroke-width="0.5"/>
<circle cx="112.03" cy="701.17" r="2.1" fill="#c8232c" stroke="#a81e26" stroke-width="0.5"/>
<circle cx="109.26" cy="703.37" r="2.1" fill="#c8232c" stroke="#a81e26" stroke-width="0.5"/>
<circle cx="107.04" cy="705.12" r="2.1" fill="#c8232c" stroke="#a81e26" stroke-width="0.5"/>
<circle cx="104.74" cy="706.94" r="2.1" fill="#c8232c" stroke="#a81e26" stroke-width="0.5"/>
<circle cx="102.54" cy="708.68" r="2.1" fill="#c8232c" stroke="#a81e26" stroke-width="0.5"/>
<circle cx="100.22" cy="710.51" r="2.1" fill="#c8232c" stroke="#a81e26" stroke-width="0.5"/>
<circle cx="97.44" cy="712.71" r="2.1" fill="#c8232c" stroke="#a81e26" stroke-width="0.5"/>
<circle cx="95.26" cy="714.43" r="2.1" fill="#c8232c" stroke="#a81e26" stroke-width="0.5"/>
<circle cx="92.93" cy="716.27" r="2.1" fill="#c8232c" stroke="#a81e26" stroke-width="0.5"/>
<circle cx="91.33" cy="717.53" r="2.1" fill="#c8232c" stroke="#a81e26" stroke-width="0.5"/>
<circle cx="81.70" cy="725.15" r="2.1" fill="#c8232c" stroke="#a81e26" stroke-width="0.5"/>
<circle cx="74.22" cy="731.06" r="2.1" fill="#c8232c" stroke="#a81e26" stroke-width="0.5"/>
<circle cx="65.90" cy="737.63" r="2.1" fill="#c8232c" stroke="#a81e26" stroke-width="0.5"/>
<circle cx="54.75" cy="746.44" r="2.1" fill="#c8232c" stroke="#a81e26" stroke-width="0.5"/>
<circle cx="50.34" cy="749.93" r="2.1" fill="#c8232c" stroke="#a81e26" stroke-width="0.5"/>
<circle cx="45.76" cy="753.55" r="2.1" fill="#c8232c" stroke="#a81e26" stroke-width="0.5"/>
<circle cx="42.74" cy="755.94" r="2.1" fill="#c8232c" stroke="#a81e26" stroke-width="0.5"/>
<rect x="184.64" y="579.59" width="4.6" height="4.6" fill="#1b71ca"/>
<rect x="184.00" y="581.38" width="4.6" height="4.6" fill="#1b71ca"/>
<rect x="183.33" y="583.27" width="4.6" height="4.6" fill="#1b71ca"/>
<rect x="182.66" y="585.16" width="4.6" height="4.6" fill="#1b71ca"/>
<rect x="181.99" y="587.05" width="4.6" height="4.6" fill="#1b71ca"/>
<rect x="181.31" y="588.93" width="4.6" height="4.6" fill="#1b71ca"/>
<rect x="180.64" y="590.82" width="4.6" height="4.6" fill="#1b71ca"/>
<rect x="180.31" y="591.76" width="4.6" height="4.6" fill="#1b71ca"/>
<rect x="179.30" y="594.59" width="4.6" height="4.6" fill="#1b71ca"/>
<rect x="178.18" y="597.74" width="4.6" height="4.6" fill="#1b71ca"/>
<rect x="176.73" y="601.83" width="4.6" height="4.6" fill="#1b71ca"/>
<rect x="175.72" y="604.66" width="4.6" height="4.6" fill="#1b71ca"/>
<rect x="174.60" y="607.81" width="4.6" height="4.6" fill="#1b71ca"/>
<rect x="172.25" y="614.41" width="4.6" height="4.6" fill="#1b71ca"/>
<rect x="171.80" y="615.67" width="4.6" height="4.6" fill="#1b71ca"/>
<rect x="169.11" y="623.22" width="4.6" height="4.6" fill="#1b71ca"/>
<rect x="168.33" y="625.42" width="4.6" height="4.6" fill="#1b71ca"/>
<rect x="166.76" y="629.83" width="4.6" height="4.6" fill="#1b71ca"/>
<rect x="165.87" y="632.34" width="4.6" height="4.6" fill="#1b71ca"/>
<rect x="164.30" y="636.75" width="4.6" height="4.6" fill="#1b71ca"/>
<rect x="163.18" y="639.89" width="4.6" height="4.6" fill="#1b71ca"/>
<rect x="161.39" y="644.93" width="4.6" height="4.6" fill="#1b71ca"/>
<rect x="160.72" y="646.81" width="4.6" height="4.6" fill="#1b71ca"/>
<rect x="159.71" y="649.64" width="4.6" height="4.6" fill="#1b71ca"/>
<rect x="158.71" y="652.48" width="4.6" height="4.6" fill="#1b71ca"/>
<rect x="157.53" y="655.78" width="4.6" height="4.6" fill="#1b71ca"/>
<rect x="156.47" y="658.77" width="4.6" height="4.6" fill="#1b71ca"/>
<rect x="155.68" y="660.97" width="4.6" height="4.6" fill="#1b71ca"/>
<rect x="154.90" y="663.17" width="4.6" height="4.6" fill="#1b71ca"/>
<rect x="154.22" y="665.08" width="4.6" height="4.6" fill="#1b71ca"/>
<rect x="153.45" y="667.25" width="4.6" height="4.6" fill="#1b71ca"/>
<rect x="153.00" y="668.51" width="4.6" height="4.6" fill="#1b71ca"/>
<rect x="152.20" y="670.75" width="4.6" height="4.6" fill="#1b71ca"/>
<rect x="151.40" y="673.01" width="4.6" height="4.6" fill="#1b71ca"/>
<rect x="150.93" y="674.33" width="4.6" height="4.6" fill="#1b71ca"/>
<rect x="150.13" y="676.59" width="4.6" height="4.6" fill="#1b71ca"/>
<rect x="149.42" y="678.58" width="4.6" height="4.6" fill="#1b71ca"/>
<rect x="148.59" y="680.91" width="4.6" height="4.6" fill="#1b71ca"/>
<rect x="147.95" y="682.72" width="4.6" height="4.6" fill="#1b71ca"/>
<rect x="147.10" y="685.10" width="4.6" height="4.6" fill="#1b71ca"/>
<rect x="146.23" y="687.53" width="4.6" height="4.6" fill="#1b71ca"/>
<rect x="145.78" y="688.80" width="4.6" height="4.6" fill="#1b71ca"/>
<rect x="145.31" y="690.12" width="4.6" height="4.6" fill="#1b71ca"/>
<rect x="144.48" y="692.46" width="4.6" height="4.6" fill="#1b71ca"/>
<rect x="143.48" y="695.26" width="4.6" height="4.6" fill="#1b71ca"/>
<rect x="142.90" y="696.90" width="4.6" height="4.6" fill="#1b71ca"/>
<rect x="142.20" y="698.87" width="4.6" height="4.6" fill="#1b71ca"/>
<rect x="141.42" y="701.07" width="4.6" height="4.6" fill="#1b71ca"/>
<rect x="140.79" y="702.82" width="4.6" height="4.6" fill="#1b71ca"/>
<rect x="140.15" y="704.64" width="4.6" height="4.6" fill="#1b71ca"/>
<rect x="139.53" y="706.38" width="4.6" height="4.6" fill="#1b71ca"/>
<rect x="138.88" y="708.21" width="4.6" height="4.6" fill="#1b71ca"/>
<rect x="138.09" y="710.41" width="4.6" height="4.6" fill="#1b71ca"/>
<rect x="137.48" y="712.13" width="4.6" height="4.6" fill="#1b71ca"/>
<rect x="136.83" y="713.97" width="4.6" height="4.6" fill="#1b71ca"/>
<rect x="136.38" y="715.23" width="4.6" height="4.6" fill="#1b71ca"/>
<rect x="133.67" y="722.85" width="4.6" height="4.6" fill="#1b71ca"/>
<rect x="131.56" y="728.76" width="4.6" height="4.6" fill="#1b71ca"/>
<rect x="129.22" y="735.33" width="4.6" height="4.6" fill="#1b71ca"/>
<rect x="126.09" y="744.14" width="4.6" height="4.6" fill="#1b71ca"/>
<rect x="124.85" y="747.63" width="4.6" height="4.6" fill="#1b71ca"/>
<rect x="123.56" y="751.25" width="4.6" height="4.6" fill="#1b71ca"/>
<rect x="122.71" y="753.64" width="4.6" height="4.6" fill="#1b71ca"/>
<text x="99.3" y="809" class="at">U<tspan font-size="7.5" dy="2.5">3</tspan><tspan dy="-2.5"> (m/s) in &#160;D2, D3, D4</tspan></text>
<text transform="translate(17.1,718.6) rotate(-90)" class="at" style="font-size:10.9px">U<tspan font-size="7.5" dy="2.5">3</tspan><tspan dy="-2.5"> (m/s) in D1</tspan></text>
<path d="M361,598.5 H671 V708.0 H309.5 V621.5 H671 M361,598.5 V708.0 M529.5,598.5 V708.0" fill="none" stroke="#000" stroke-width="1.5"/>
<text x="444.5" y="617.5" text-anchor="middle" class="tb">slope</text>
<text x="600" y="617.5" text-anchor="middle" class="tb">intercept</text>
<text x="404.3" y="640.5" text-anchor="middle" class="tr">ideal</text>
<text x="488.5" y="640.5" text-anchor="middle" class="tr">% deviation</text>
<text x="562.2" y="640.5" text-anchor="middle" class="tr">ideal</text>
<text x="633.5" y="640.5" text-anchor="middle" class="tr">simulated</text>
<text x="317.8" y="661.8" class="tb">D1:D2</text>
<text x="404.3" y="661.8" text-anchor="middle" class="tr">2</text>
<text x="488.5" y="661.8" text-anchor="middle" class="tr">1.41E-03</text>
<text x="562.2" y="661.8" text-anchor="middle" class="tr">0</text>
<text x="633.5" y="661.8" text-anchor="middle" class="tr">-7.23E-10</text>
<text x="317.8" y="683.0" class="tb">D1:D3</text>
<text x="404.3" y="683.0" text-anchor="middle" class="tr">0.5</text>
<text x="488.5" y="683.0" text-anchor="middle" class="tr">8.75E-03</text>
<text x="562.2" y="683.0" text-anchor="middle" class="tr">0</text>
<text x="633.5" y="683.0" text-anchor="middle" class="tr">-1.29E-09</text>
<text x="317.8" y="704.2" class="tb">D1:D4</text>
<text x="404.3" y="704.2" text-anchor="middle" class="tr">1.778</text>
<text x="488.5" y="704.2" text-anchor="middle" class="tr">1.17E-02</text>
<text x="562.2" y="704.2" text-anchor="middle" class="tr">0</text>
<text x="633.5" y="704.2" text-anchor="middle" class="tr">3.43E-10</text>
</svg></body></html>
